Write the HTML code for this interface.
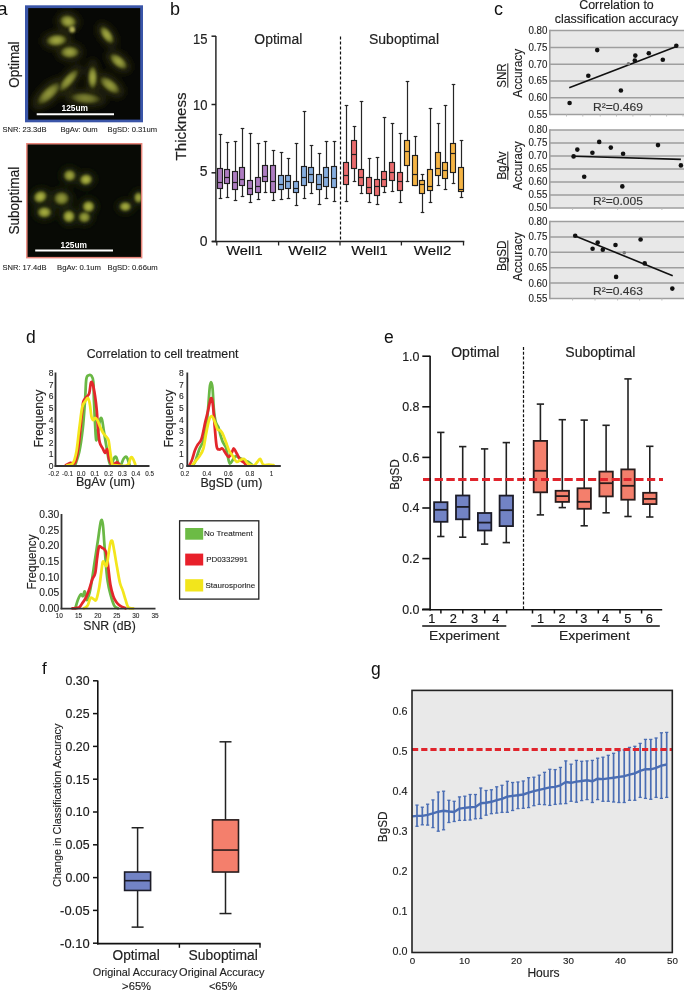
<!DOCTYPE html>
<html><head><meta charset="utf-8"><title>Figure</title><style>html,body{margin:0;padding:0;background:#fff;overflow:hidden;}svg{display:block;will-change:transform;}text{font-family:"Liberation Sans",sans-serif;}</style></head><body><svg width="685" height="991" viewBox="0 0 685 991"><rect width="685" height="991" fill="#fff"/><text x="-3" y="14.5" font-size="19" fill="#111">a</text>
<rect x="25" y="5.3" width="118" height="117" fill="#3a55a8" stroke="none" stroke-width="1" />
<rect x="28.2" y="8.1" width="112" height="111.5" fill="#070805" stroke="none" stroke-width="1" />
<defs><filter id="bl" x="-50%" y="-50%" width="200%" height="200%"><feGaussianBlur stdDeviation="1.1"/></filter><filter id="bl2" x="-50%" y="-50%" width="200%" height="200%"><feGaussianBlur stdDeviation="3"/></filter><radialGradient id="cg"><stop offset="0" stop-color="#a8ae44"/><stop offset="0.5" stop-color="#888e36"/><stop offset="0.85" stop-color="#4a4e1a"/><stop offset="1" stop-color="#1a1c08"/></radialGradient><radialGradient id="cg2"><stop offset="0" stop-color="#b4ba46"/><stop offset="0.45" stop-color="#99a03a"/><stop offset="0.8" stop-color="#5a6020"/><stop offset="1" stop-color="#1e2008"/></radialGradient><clipPath id="c1"><rect x="28.2" y="8.1" width="112" height="111.5"/></clipPath><clipPath id="c2"><rect x="27.6" y="144.5" width="113.3" height="112.4"/></clipPath></defs>
<g clip-path="url(#c1)">
<g filter="url(#bl2)" fill="#262610">
<ellipse cx="68.1" cy="21.5" rx="11.899999999999999" ry="10.4" transform="rotate(15 68.1 21.5)"/>
<ellipse cx="56.6" cy="40.3" rx="14.7" ry="9.600000000000001" transform="rotate(-5 56.6 40.3)"/>
<ellipse cx="69.7" cy="52.2" rx="13.299999999999999" ry="9.920000000000002" transform="rotate(0 69.7 52.2)"/>
<ellipse cx="106.9" cy="35" rx="14.0" ry="8.0" transform="rotate(55 106.9 35)"/>
<ellipse cx="118.5" cy="61.5" rx="14.7" ry="8.8" transform="rotate(40 118.5 61.5)"/>
<ellipse cx="92.6" cy="77.5" rx="6.72" ry="18.400000000000002" transform="rotate(0 92.6 77.5)"/>
<ellipse cx="109.8" cy="85.2" rx="16.799999999999997" ry="9.28" transform="rotate(38 109.8 85.2)"/>
<ellipse cx="68.5" cy="80.4" rx="19.599999999999998" ry="8.0" transform="rotate(-49 68.5 80.4)"/>
<ellipse cx="49" cy="93.4" rx="21.0" ry="9.600000000000001" transform="rotate(-43 49 93.4)"/>
<ellipse cx="85.5" cy="98.3" rx="21.0" ry="8.8" transform="rotate(5 85.5 98.3)"/>
</g>
<g filter="url(#bl)">
<ellipse cx="68.1" cy="21.5" rx="8.5" ry="6.5" fill="url(#cg)" opacity="1.0" transform="rotate(15 68.1 21.5)"/>
<ellipse cx="56.6" cy="40.3" rx="10.5" ry="6" fill="url(#cg)" opacity="1.0" transform="rotate(-5 56.6 40.3)"/>
<ellipse cx="69.7" cy="52.2" rx="9.5" ry="6.2" fill="url(#cg)" opacity="0.95" transform="rotate(0 69.7 52.2)"/>
<ellipse cx="106.9" cy="35" rx="10" ry="5" fill="url(#cg)" opacity="1.0" transform="rotate(55 106.9 35)"/>
<ellipse cx="118.5" cy="61.5" rx="10.5" ry="5.5" fill="url(#cg)" opacity="0.95" transform="rotate(40 118.5 61.5)"/>
<ellipse cx="92.6" cy="77.5" rx="4.8" ry="11.5" fill="url(#cg)" opacity="1.0" transform="rotate(0 92.6 77.5)"/>
<ellipse cx="109.8" cy="85.2" rx="12" ry="5.8" fill="url(#cg)" opacity="0.9" transform="rotate(38 109.8 85.2)"/>
<ellipse cx="68.5" cy="80.4" rx="14" ry="5" fill="url(#cg)" opacity="0.9" transform="rotate(-49 68.5 80.4)"/>
<ellipse cx="49" cy="93.4" rx="15" ry="6" fill="url(#cg)" opacity="0.85" transform="rotate(-43 49 93.4)"/>
<ellipse cx="85.5" cy="98.3" rx="15" ry="5.5" fill="url(#cg)" opacity="0.7" transform="rotate(5 85.5 98.3)"/>
<circle cx="72.2" cy="29.7" r="2.9" fill="#b0ae55"/>
</g>
</g>
<line x1="36.7" y1="114.3" x2="114" y2="114.3" stroke="#fff" stroke-width="2" />
<text x="61.5" y="111" font-size="8.2" fill="#fff" textLength="26.5" lengthAdjust="spacingAndGlyphs" font-weight="bold">125um</text>
<text x="2.5" y="132.1" font-size="7.2" fill="#222" stroke="#222" stroke-width="0.09" textLength="44" lengthAdjust="spacingAndGlyphs">SNR: 23.3dB</text>
<text x="60.5" y="132.1" font-size="7.2" fill="#222" stroke="#222" stroke-width="0.09" textLength="37.2" lengthAdjust="spacingAndGlyphs">BgAv: 0um</text>
<text x="107.6" y="132.1" font-size="7.2" fill="#222" stroke="#222" stroke-width="0.09" textLength="49.4" lengthAdjust="spacingAndGlyphs">BgSD: 0.31um</text>
<text transform="translate(19.2,64.6) rotate(-90)" font-size="14.7" fill="#1a1a1a" stroke="#1a1a1a" stroke-width="0.18" text-anchor="middle" textLength="46.3" lengthAdjust="spacingAndGlyphs">Optimal</text>
<rect x="26.1" y="143" width="116.3" height="115.4" fill="#e8857a" stroke="none" stroke-width="1" />
<rect x="27.6" y="144.5" width="113.3" height="112.4" fill="#080a05" stroke="none" stroke-width="1" />
<g clip-path="url(#c2)">
<g filter="url(#bl2)" fill="#1c200a">
<ellipse cx="69.7" cy="175.5" rx="9.600000000000001" ry="9.28" transform="rotate(0 69.7 175.5)"/>
<ellipse cx="86" cy="179.6" rx="10.08" ry="8.8" transform="rotate(-10 86 179.6)"/>
<ellipse cx="40.3" cy="196.8" rx="10.88" ry="9.28" transform="rotate(-30 40.3 196.8)"/>
<ellipse cx="61.5" cy="198.4" rx="11.840000000000002" ry="10.4" transform="rotate(0 61.5 198.4)"/>
<ellipse cx="88.5" cy="206.6" rx="9.600000000000001" ry="9.28" transform="rotate(0 88.5 206.6)"/>
<ellipse cx="44.4" cy="212.3" rx="11.200000000000001" ry="8.8" transform="rotate(0 44.4 212.3)"/>
<ellipse cx="68.9" cy="216.4" rx="9.600000000000001" ry="9.920000000000002" transform="rotate(0 68.9 216.4)"/>
<ellipse cx="84.4" cy="217.2" rx="9.600000000000001" ry="8.8" transform="rotate(0 84.4 217.2)"/>
<ellipse cx="125.3" cy="206.6" rx="9.600000000000001" ry="7.68" transform="rotate(0 125.3 206.6)"/>
<ellipse cx="138.5" cy="197.6" rx="7.2" ry="8.8" transform="rotate(0 138.5 197.6)"/>
</g>
<g filter="url(#bl)">
<ellipse cx="69.7" cy="175.5" rx="6.300000000000001" ry="6.09" fill="url(#cg2)" opacity="0.9" transform="rotate(0 69.7 175.5)"/>
<ellipse cx="86" cy="179.6" rx="6.615" ry="5.775" fill="url(#cg2)" opacity="1.0" transform="rotate(-10 86 179.6)"/>
<ellipse cx="40.3" cy="196.8" rx="7.14" ry="6.09" fill="url(#cg2)" opacity="1.0" transform="rotate(-30 40.3 196.8)"/>
<ellipse cx="61.5" cy="198.4" rx="7.7700000000000005" ry="6.825" fill="url(#cg2)" opacity="0.8" transform="rotate(0 61.5 198.4)"/>
<ellipse cx="88.5" cy="206.6" rx="6.300000000000001" ry="6.09" fill="url(#cg2)" opacity="1.0" transform="rotate(0 88.5 206.6)"/>
<ellipse cx="44.4" cy="212.3" rx="7.3500000000000005" ry="5.775" fill="url(#cg2)" opacity="0.95" transform="rotate(0 44.4 212.3)"/>
<ellipse cx="68.9" cy="216.4" rx="6.300000000000001" ry="6.510000000000001" fill="url(#cg2)" opacity="1.0" transform="rotate(0 68.9 216.4)"/>
<ellipse cx="84.4" cy="217.2" rx="6.300000000000001" ry="5.775" fill="url(#cg2)" opacity="0.85" transform="rotate(0 84.4 217.2)"/>
<ellipse cx="125.3" cy="206.6" rx="6.300000000000001" ry="5.04" fill="url(#cg2)" opacity="0.95" transform="rotate(0 125.3 206.6)"/>
<ellipse cx="138.5" cy="197.6" rx="4.7250000000000005" ry="5.775" fill="url(#cg2)" opacity="0.9" transform="rotate(0 138.5 197.6)"/>
</g>
</g>
<line x1="35.2" y1="250.4" x2="113" y2="250.4" stroke="#fff" stroke-width="2" />
<text x="60.5" y="247.5" font-size="8.2" fill="#fff" textLength="26.5" lengthAdjust="spacingAndGlyphs" font-weight="bold">125um</text>
<text x="2.5" y="269.7" font-size="7.2" fill="#222" stroke="#222" stroke-width="0.09" textLength="44" lengthAdjust="spacingAndGlyphs">SNR: 17.4dB</text>
<text x="57" y="269.7" font-size="7.2" fill="#222" stroke="#222" stroke-width="0.09" textLength="44" lengthAdjust="spacingAndGlyphs">BgAv: 0.1um</text>
<text x="107.6" y="269.7" font-size="7.2" fill="#222" stroke="#222" stroke-width="0.09" textLength="50" lengthAdjust="spacingAndGlyphs">BgSD: 0.66um</text>
<text transform="translate(19.4,200.7) rotate(-90)" font-size="15" fill="#1a1a1a" stroke="#1a1a1a" stroke-width="0.18" text-anchor="middle" textLength="67.8" lengthAdjust="spacingAndGlyphs">Suboptimal</text>
<text x="170" y="14.5" font-size="18" fill="#111">b</text>
<line x1="220.5" y1="134.5" x2="220.5" y2="168.5" stroke="#262626" stroke-width="1.2" />
<line x1="220.5" y1="188.5" x2="220.5" y2="198.5" stroke="#262626" stroke-width="1.2" />
<line x1="218.7" y1="134.5" x2="222.3" y2="134.5" stroke="#262626" stroke-width="1.2" />
<line x1="218.7" y1="198.5" x2="222.3" y2="198.5" stroke="#262626" stroke-width="1.2" />
<rect x="217.5" y="168.5" width="5" height="20.0" fill="#ad7cc1" stroke="#1e1e1e" stroke-width="1.15" />
<line x1="217.5" y1="182.5" x2="222.5" y2="182.5" stroke="#1e1e1e" stroke-width="1.2" />
<line x1="227.5" y1="142.5" x2="227.5" y2="169.5" stroke="#262626" stroke-width="1.2" />
<line x1="227.5" y1="183.5" x2="227.5" y2="197.5" stroke="#262626" stroke-width="1.2" />
<line x1="225.7" y1="142.5" x2="229.3" y2="142.5" stroke="#262626" stroke-width="1.2" />
<line x1="225.7" y1="197.5" x2="229.3" y2="197.5" stroke="#262626" stroke-width="1.2" />
<rect x="224.5" y="169.5" width="5" height="14.0" fill="#ad7cc1" stroke="#1e1e1e" stroke-width="1.15" />
<line x1="224.5" y1="177.5" x2="229.5" y2="177.5" stroke="#1e1e1e" stroke-width="1.2" />
<line x1="235.5" y1="141.5" x2="235.5" y2="171.5" stroke="#262626" stroke-width="1.2" />
<line x1="235.5" y1="189.5" x2="235.5" y2="200.5" stroke="#262626" stroke-width="1.2" />
<line x1="233.7" y1="141.5" x2="237.3" y2="141.5" stroke="#262626" stroke-width="1.2" />
<line x1="233.7" y1="200.5" x2="237.3" y2="200.5" stroke="#262626" stroke-width="1.2" />
<rect x="232.5" y="171.5" width="5" height="18.0" fill="#ad7cc1" stroke="#1e1e1e" stroke-width="1.15" />
<line x1="232.5" y1="182.5" x2="237.5" y2="182.5" stroke="#1e1e1e" stroke-width="1.2" />
<line x1="242.5" y1="128.5" x2="242.5" y2="167.5" stroke="#262626" stroke-width="1.2" />
<line x1="242.5" y1="185.5" x2="242.5" y2="196.5" stroke="#262626" stroke-width="1.2" />
<line x1="240.7" y1="128.5" x2="244.3" y2="128.5" stroke="#262626" stroke-width="1.2" />
<line x1="240.7" y1="196.5" x2="244.3" y2="196.5" stroke="#262626" stroke-width="1.2" />
<rect x="239.5" y="167.5" width="5" height="18.0" fill="#ad7cc1" stroke="#1e1e1e" stroke-width="1.15" />
<line x1="239.5" y1="179.5" x2="244.5" y2="179.5" stroke="#1e1e1e" stroke-width="1.2" />
<line x1="250.5" y1="133.5" x2="250.5" y2="180.5" stroke="#262626" stroke-width="1.2" />
<line x1="250.5" y1="194.5" x2="250.5" y2="202.5" stroke="#262626" stroke-width="1.2" />
<line x1="248.7" y1="133.5" x2="252.3" y2="133.5" stroke="#262626" stroke-width="1.2" />
<line x1="248.7" y1="202.5" x2="252.3" y2="202.5" stroke="#262626" stroke-width="1.2" />
<rect x="247.5" y="180.5" width="5" height="14.0" fill="#ad7cc1" stroke="#1e1e1e" stroke-width="1.15" />
<line x1="247.5" y1="188.5" x2="252.5" y2="188.5" stroke="#1e1e1e" stroke-width="1.2" />
<line x1="258.5" y1="143.5" x2="258.5" y2="177.5" stroke="#262626" stroke-width="1.2" />
<line x1="258.5" y1="192.5" x2="258.5" y2="199.5" stroke="#262626" stroke-width="1.2" />
<line x1="256.7" y1="143.5" x2="260.3" y2="143.5" stroke="#262626" stroke-width="1.2" />
<line x1="256.7" y1="199.5" x2="260.3" y2="199.5" stroke="#262626" stroke-width="1.2" />
<rect x="255.5" y="177.5" width="5" height="15.0" fill="#ad7cc1" stroke="#1e1e1e" stroke-width="1.15" />
<line x1="255.5" y1="186.5" x2="260.5" y2="186.5" stroke="#1e1e1e" stroke-width="1.2" />
<line x1="265.5" y1="141.5" x2="265.5" y2="165.5" stroke="#262626" stroke-width="1.2" />
<line x1="265.5" y1="181.5" x2="265.5" y2="192.5" stroke="#262626" stroke-width="1.2" />
<line x1="263.7" y1="141.5" x2="267.3" y2="141.5" stroke="#262626" stroke-width="1.2" />
<line x1="263.7" y1="192.5" x2="267.3" y2="192.5" stroke="#262626" stroke-width="1.2" />
<rect x="262.5" y="165.5" width="5" height="16.0" fill="#ad7cc1" stroke="#1e1e1e" stroke-width="1.15" />
<line x1="262.5" y1="176.5" x2="267.5" y2="176.5" stroke="#1e1e1e" stroke-width="1.2" />
<line x1="273.5" y1="150.5" x2="273.5" y2="165.5" stroke="#262626" stroke-width="1.2" />
<line x1="273.5" y1="192.5" x2="273.5" y2="200.5" stroke="#262626" stroke-width="1.2" />
<line x1="271.7" y1="150.5" x2="275.3" y2="150.5" stroke="#262626" stroke-width="1.2" />
<line x1="271.7" y1="200.5" x2="275.3" y2="200.5" stroke="#262626" stroke-width="1.2" />
<rect x="270.5" y="165.5" width="5" height="27.0" fill="#ad7cc1" stroke="#1e1e1e" stroke-width="1.15" />
<line x1="270.5" y1="181.5" x2="275.5" y2="181.5" stroke="#1e1e1e" stroke-width="1.2" />
<line x1="281.5" y1="152.5" x2="281.5" y2="175.5" stroke="#262626" stroke-width="1.2" />
<line x1="281.5" y1="189.5" x2="281.5" y2="199.5" stroke="#262626" stroke-width="1.2" />
<line x1="279.7" y1="152.5" x2="283.3" y2="152.5" stroke="#262626" stroke-width="1.2" />
<line x1="279.7" y1="199.5" x2="283.3" y2="199.5" stroke="#262626" stroke-width="1.2" />
<rect x="278.5" y="175.5" width="5" height="14.0" fill="#85addf" stroke="#1e1e1e" stroke-width="1.15" />
<line x1="278.5" y1="184.5" x2="283.5" y2="184.5" stroke="#1e1e1e" stroke-width="1.2" />
<line x1="288.5" y1="158.5" x2="288.5" y2="175.5" stroke="#262626" stroke-width="1.2" />
<line x1="288.5" y1="188.5" x2="288.5" y2="198.5" stroke="#262626" stroke-width="1.2" />
<line x1="286.7" y1="158.5" x2="290.3" y2="158.5" stroke="#262626" stroke-width="1.2" />
<line x1="286.7" y1="198.5" x2="290.3" y2="198.5" stroke="#262626" stroke-width="1.2" />
<rect x="285.5" y="175.5" width="5" height="13.0" fill="#85addf" stroke="#1e1e1e" stroke-width="1.15" />
<line x1="285.5" y1="181.5" x2="290.5" y2="181.5" stroke="#1e1e1e" stroke-width="1.2" />
<line x1="296.5" y1="143.5" x2="296.5" y2="181.5" stroke="#262626" stroke-width="1.2" />
<line x1="296.5" y1="192.5" x2="296.5" y2="205.5" stroke="#262626" stroke-width="1.2" />
<line x1="294.7" y1="143.5" x2="298.3" y2="143.5" stroke="#262626" stroke-width="1.2" />
<line x1="294.7" y1="205.5" x2="298.3" y2="205.5" stroke="#262626" stroke-width="1.2" />
<rect x="293.5" y="181.5" width="5" height="11.0" fill="#85addf" stroke="#1e1e1e" stroke-width="1.15" />
<line x1="293.5" y1="188.5" x2="298.5" y2="188.5" stroke="#1e1e1e" stroke-width="1.2" />
<line x1="304.5" y1="111.5" x2="304.5" y2="166.5" stroke="#262626" stroke-width="1.2" />
<line x1="304.5" y1="185.5" x2="304.5" y2="198.5" stroke="#262626" stroke-width="1.2" />
<line x1="302.7" y1="111.5" x2="306.3" y2="111.5" stroke="#262626" stroke-width="1.2" />
<line x1="302.7" y1="198.5" x2="306.3" y2="198.5" stroke="#262626" stroke-width="1.2" />
<rect x="301.5" y="166.5" width="5" height="19.0" fill="#85addf" stroke="#1e1e1e" stroke-width="1.15" />
<line x1="301.5" y1="177.5" x2="306.5" y2="177.5" stroke="#1e1e1e" stroke-width="1.2" />
<line x1="311.5" y1="145.5" x2="311.5" y2="167.5" stroke="#262626" stroke-width="1.2" />
<line x1="311.5" y1="182.5" x2="311.5" y2="193.5" stroke="#262626" stroke-width="1.2" />
<line x1="309.7" y1="145.5" x2="313.3" y2="145.5" stroke="#262626" stroke-width="1.2" />
<line x1="309.7" y1="193.5" x2="313.3" y2="193.5" stroke="#262626" stroke-width="1.2" />
<rect x="308.5" y="167.5" width="5" height="15.0" fill="#85addf" stroke="#1e1e1e" stroke-width="1.15" />
<line x1="308.5" y1="174.5" x2="313.5" y2="174.5" stroke="#1e1e1e" stroke-width="1.2" />
<line x1="319.5" y1="153.5" x2="319.5" y2="174.5" stroke="#262626" stroke-width="1.2" />
<line x1="319.5" y1="189.5" x2="319.5" y2="204.5" stroke="#262626" stroke-width="1.2" />
<line x1="317.7" y1="153.5" x2="321.3" y2="153.5" stroke="#262626" stroke-width="1.2" />
<line x1="317.7" y1="204.5" x2="321.3" y2="204.5" stroke="#262626" stroke-width="1.2" />
<rect x="316.5" y="174.5" width="5" height="15.0" fill="#85addf" stroke="#1e1e1e" stroke-width="1.15" />
<line x1="316.5" y1="184.5" x2="321.5" y2="184.5" stroke="#1e1e1e" stroke-width="1.2" />
<line x1="326.5" y1="141.5" x2="326.5" y2="167.5" stroke="#262626" stroke-width="1.2" />
<line x1="326.5" y1="186.5" x2="326.5" y2="198.5" stroke="#262626" stroke-width="1.2" />
<line x1="324.7" y1="141.5" x2="328.3" y2="141.5" stroke="#262626" stroke-width="1.2" />
<line x1="324.7" y1="198.5" x2="328.3" y2="198.5" stroke="#262626" stroke-width="1.2" />
<rect x="323.5" y="167.5" width="5" height="19.0" fill="#85addf" stroke="#1e1e1e" stroke-width="1.15" />
<line x1="323.5" y1="177.5" x2="328.5" y2="177.5" stroke="#1e1e1e" stroke-width="1.2" />
<line x1="334.5" y1="141.5" x2="334.5" y2="166.5" stroke="#262626" stroke-width="1.2" />
<line x1="334.5" y1="187.5" x2="334.5" y2="201.5" stroke="#262626" stroke-width="1.2" />
<line x1="332.7" y1="141.5" x2="336.3" y2="141.5" stroke="#262626" stroke-width="1.2" />
<line x1="332.7" y1="201.5" x2="336.3" y2="201.5" stroke="#262626" stroke-width="1.2" />
<rect x="331.5" y="166.5" width="5" height="21.0" fill="#85addf" stroke="#1e1e1e" stroke-width="1.15" />
<line x1="331.5" y1="178.5" x2="336.5" y2="178.5" stroke="#1e1e1e" stroke-width="1.2" />
<line x1="346.5" y1="105.5" x2="346.5" y2="162.5" stroke="#262626" stroke-width="1.2" />
<line x1="346.5" y1="184.5" x2="346.5" y2="201.5" stroke="#262626" stroke-width="1.2" />
<line x1="344.7" y1="105.5" x2="348.3" y2="105.5" stroke="#262626" stroke-width="1.2" />
<line x1="344.7" y1="201.5" x2="348.3" y2="201.5" stroke="#262626" stroke-width="1.2" />
<rect x="343.5" y="162.5" width="5" height="22.0" fill="#ea6b6d" stroke="#1e1e1e" stroke-width="1.15" />
<line x1="343.5" y1="175.5" x2="348.5" y2="175.5" stroke="#1e1e1e" stroke-width="1.2" />
<line x1="354.5" y1="126.5" x2="354.5" y2="140.5" stroke="#262626" stroke-width="1.2" />
<line x1="354.5" y1="168.5" x2="354.5" y2="181.5" stroke="#262626" stroke-width="1.2" />
<line x1="352.7" y1="126.5" x2="356.3" y2="126.5" stroke="#262626" stroke-width="1.2" />
<line x1="352.7" y1="181.5" x2="356.3" y2="181.5" stroke="#262626" stroke-width="1.2" />
<rect x="351.5" y="140.5" width="5" height="28.0" fill="#ea6b6d" stroke="#1e1e1e" stroke-width="1.15" />
<line x1="351.5" y1="154.5" x2="356.5" y2="154.5" stroke="#1e1e1e" stroke-width="1.2" />
<line x1="361.5" y1="101.5" x2="361.5" y2="169.5" stroke="#262626" stroke-width="1.2" />
<line x1="361.5" y1="185.5" x2="361.5" y2="193.5" stroke="#262626" stroke-width="1.2" />
<line x1="359.7" y1="101.5" x2="363.3" y2="101.5" stroke="#262626" stroke-width="1.2" />
<line x1="359.7" y1="193.5" x2="363.3" y2="193.5" stroke="#262626" stroke-width="1.2" />
<rect x="358.5" y="169.5" width="5" height="16.0" fill="#ea6b6d" stroke="#1e1e1e" stroke-width="1.15" />
<line x1="358.5" y1="177.5" x2="363.5" y2="177.5" stroke="#1e1e1e" stroke-width="1.2" />
<line x1="369.5" y1="158.5" x2="369.5" y2="177.5" stroke="#262626" stroke-width="1.2" />
<line x1="369.5" y1="193.5" x2="369.5" y2="202.5" stroke="#262626" stroke-width="1.2" />
<line x1="367.7" y1="158.5" x2="371.3" y2="158.5" stroke="#262626" stroke-width="1.2" />
<line x1="367.7" y1="202.5" x2="371.3" y2="202.5" stroke="#262626" stroke-width="1.2" />
<rect x="366.5" y="177.5" width="5" height="16.0" fill="#ea6b6d" stroke="#1e1e1e" stroke-width="1.15" />
<line x1="366.5" y1="187.5" x2="371.5" y2="187.5" stroke="#1e1e1e" stroke-width="1.2" />
<line x1="377.5" y1="157.5" x2="377.5" y2="179.5" stroke="#262626" stroke-width="1.2" />
<line x1="377.5" y1="195.5" x2="377.5" y2="204.5" stroke="#262626" stroke-width="1.2" />
<line x1="375.7" y1="157.5" x2="379.3" y2="157.5" stroke="#262626" stroke-width="1.2" />
<line x1="375.7" y1="204.5" x2="379.3" y2="204.5" stroke="#262626" stroke-width="1.2" />
<rect x="374.5" y="179.5" width="5" height="16.0" fill="#ea6b6d" stroke="#1e1e1e" stroke-width="1.15" />
<line x1="374.5" y1="186.5" x2="379.5" y2="186.5" stroke="#1e1e1e" stroke-width="1.2" />
<line x1="384.5" y1="117.5" x2="384.5" y2="171.5" stroke="#262626" stroke-width="1.2" />
<line x1="384.5" y1="186.5" x2="384.5" y2="192.5" stroke="#262626" stroke-width="1.2" />
<line x1="382.7" y1="117.5" x2="386.3" y2="117.5" stroke="#262626" stroke-width="1.2" />
<line x1="382.7" y1="192.5" x2="386.3" y2="192.5" stroke="#262626" stroke-width="1.2" />
<rect x="381.5" y="171.5" width="5" height="15.0" fill="#ea6b6d" stroke="#1e1e1e" stroke-width="1.15" />
<line x1="381.5" y1="179.5" x2="386.5" y2="179.5" stroke="#1e1e1e" stroke-width="1.2" />
<line x1="392.5" y1="123.5" x2="392.5" y2="162.5" stroke="#262626" stroke-width="1.2" />
<line x1="392.5" y1="180.5" x2="392.5" y2="191.5" stroke="#262626" stroke-width="1.2" />
<line x1="390.7" y1="123.5" x2="394.3" y2="123.5" stroke="#262626" stroke-width="1.2" />
<line x1="390.7" y1="191.5" x2="394.3" y2="191.5" stroke="#262626" stroke-width="1.2" />
<rect x="389.5" y="162.5" width="5" height="18.0" fill="#ea6b6d" stroke="#1e1e1e" stroke-width="1.15" />
<line x1="389.5" y1="172.5" x2="394.5" y2="172.5" stroke="#1e1e1e" stroke-width="1.2" />
<line x1="400.5" y1="133.5" x2="400.5" y2="172.5" stroke="#262626" stroke-width="1.2" />
<line x1="400.5" y1="190.5" x2="400.5" y2="202.5" stroke="#262626" stroke-width="1.2" />
<line x1="398.7" y1="133.5" x2="402.3" y2="133.5" stroke="#262626" stroke-width="1.2" />
<line x1="398.7" y1="202.5" x2="402.3" y2="202.5" stroke="#262626" stroke-width="1.2" />
<rect x="397.5" y="172.5" width="5" height="18.0" fill="#ea6b6d" stroke="#1e1e1e" stroke-width="1.15" />
<line x1="397.5" y1="181.5" x2="402.5" y2="181.5" stroke="#1e1e1e" stroke-width="1.2" />
<line x1="407.5" y1="81.5" x2="407.5" y2="140.5" stroke="#262626" stroke-width="1.2" />
<line x1="407.5" y1="165.5" x2="407.5" y2="181.5" stroke="#262626" stroke-width="1.2" />
<line x1="405.7" y1="81.5" x2="409.3" y2="81.5" stroke="#262626" stroke-width="1.2" />
<line x1="405.7" y1="181.5" x2="409.3" y2="181.5" stroke="#262626" stroke-width="1.2" />
<rect x="404.5" y="140.5" width="5" height="25.0" fill="#f5b444" stroke="#1e1e1e" stroke-width="1.15" />
<line x1="404.5" y1="151.5" x2="409.5" y2="151.5" stroke="#1e1e1e" stroke-width="1.2" />
<line x1="415.5" y1="136.5" x2="415.5" y2="155.5" stroke="#262626" stroke-width="1.2" />
<line x1="415.5" y1="185.5" x2="415.5" y2="185.5" stroke="#262626" stroke-width="1.2" />
<line x1="413.7" y1="136.5" x2="417.3" y2="136.5" stroke="#262626" stroke-width="1.2" />
<line x1="413.7" y1="185.5" x2="417.3" y2="185.5" stroke="#262626" stroke-width="1.2" />
<rect x="412.5" y="155.5" width="5" height="30.0" fill="#f5b444" stroke="#1e1e1e" stroke-width="1.15" />
<line x1="412.5" y1="174.5" x2="417.5" y2="174.5" stroke="#1e1e1e" stroke-width="1.2" />
<line x1="422.5" y1="174.5" x2="422.5" y2="180.5" stroke="#262626" stroke-width="1.2" />
<line x1="422.5" y1="193.5" x2="422.5" y2="212.5" stroke="#262626" stroke-width="1.2" />
<line x1="420.7" y1="174.5" x2="424.3" y2="174.5" stroke="#262626" stroke-width="1.2" />
<line x1="420.7" y1="212.5" x2="424.3" y2="212.5" stroke="#262626" stroke-width="1.2" />
<rect x="419.5" y="180.5" width="5" height="13.0" fill="#f5b444" stroke="#1e1e1e" stroke-width="1.15" />
<line x1="419.5" y1="184.5" x2="424.5" y2="184.5" stroke="#1e1e1e" stroke-width="1.2" />
<line x1="430.5" y1="108.5" x2="430.5" y2="169.5" stroke="#262626" stroke-width="1.2" />
<line x1="430.5" y1="190.5" x2="430.5" y2="202.5" stroke="#262626" stroke-width="1.2" />
<line x1="428.7" y1="108.5" x2="432.3" y2="108.5" stroke="#262626" stroke-width="1.2" />
<line x1="428.7" y1="202.5" x2="432.3" y2="202.5" stroke="#262626" stroke-width="1.2" />
<rect x="427.5" y="169.5" width="5" height="21.0" fill="#f5b444" stroke="#1e1e1e" stroke-width="1.15" />
<line x1="427.5" y1="186.5" x2="432.5" y2="186.5" stroke="#1e1e1e" stroke-width="1.2" />
<line x1="438.5" y1="123.5" x2="438.5" y2="152.5" stroke="#262626" stroke-width="1.2" />
<line x1="438.5" y1="175.5" x2="438.5" y2="185.5" stroke="#262626" stroke-width="1.2" />
<line x1="436.7" y1="123.5" x2="440.3" y2="123.5" stroke="#262626" stroke-width="1.2" />
<line x1="436.7" y1="185.5" x2="440.3" y2="185.5" stroke="#262626" stroke-width="1.2" />
<rect x="435.5" y="152.5" width="5" height="23.0" fill="#f5b444" stroke="#1e1e1e" stroke-width="1.15" />
<line x1="435.5" y1="168.5" x2="440.5" y2="168.5" stroke="#1e1e1e" stroke-width="1.2" />
<line x1="445.5" y1="105.5" x2="445.5" y2="162.5" stroke="#262626" stroke-width="1.2" />
<line x1="445.5" y1="178.5" x2="445.5" y2="189.5" stroke="#262626" stroke-width="1.2" />
<line x1="443.7" y1="105.5" x2="447.3" y2="105.5" stroke="#262626" stroke-width="1.2" />
<line x1="443.7" y1="189.5" x2="447.3" y2="189.5" stroke="#262626" stroke-width="1.2" />
<rect x="442.5" y="162.5" width="5" height="16.0" fill="#f5b444" stroke="#1e1e1e" stroke-width="1.15" />
<line x1="442.5" y1="170.5" x2="447.5" y2="170.5" stroke="#1e1e1e" stroke-width="1.2" />
<line x1="453.5" y1="84.5" x2="453.5" y2="143.5" stroke="#262626" stroke-width="1.2" />
<line x1="453.5" y1="172.5" x2="453.5" y2="183.5" stroke="#262626" stroke-width="1.2" />
<line x1="451.7" y1="84.5" x2="455.3" y2="84.5" stroke="#262626" stroke-width="1.2" />
<line x1="451.7" y1="183.5" x2="455.3" y2="183.5" stroke="#262626" stroke-width="1.2" />
<rect x="450.5" y="143.5" width="5" height="29.0" fill="#f5b444" stroke="#1e1e1e" stroke-width="1.15" />
<line x1="450.5" y1="153.5" x2="455.5" y2="153.5" stroke="#1e1e1e" stroke-width="1.2" />
<line x1="461.5" y1="140.5" x2="461.5" y2="167.5" stroke="#262626" stroke-width="1.2" />
<line x1="461.5" y1="191.5" x2="461.5" y2="197.5" stroke="#262626" stroke-width="1.2" />
<line x1="459.7" y1="140.5" x2="463.3" y2="140.5" stroke="#262626" stroke-width="1.2" />
<line x1="459.7" y1="197.5" x2="463.3" y2="197.5" stroke="#262626" stroke-width="1.2" />
<rect x="458.5" y="167.5" width="5" height="24.0" fill="#f5b444" stroke="#1e1e1e" stroke-width="1.15" />
<line x1="458.5" y1="189.5" x2="463.5" y2="189.5" stroke="#1e1e1e" stroke-width="1.2" />
<line x1="215.9" y1="36" x2="215.9" y2="242.2" stroke="#1a1a1a" stroke-width="1.4" />
<line x1="212" y1="241.5" x2="464.3" y2="241.5" stroke="#222" stroke-width="1.5" />
<line x1="211.5" y1="36.2" x2="216" y2="36.2" stroke="#222" stroke-width="1.5" />
<line x1="211.5" y1="104.5" x2="216" y2="104.5" stroke="#222" stroke-width="1.5" />
<line x1="211.5" y1="172.8" x2="216" y2="172.8" stroke="#222" stroke-width="1.5" />
<line x1="211.5" y1="241.5" x2="216" y2="241.5" stroke="#222" stroke-width="1.5" />
<line x1="216.8" y1="241.5" x2="216.8" y2="245.5" stroke="#222" stroke-width="1.3" />
<line x1="278.6" y1="241.5" x2="278.6" y2="245.5" stroke="#222" stroke-width="1.3" />
<line x1="340" y1="241.5" x2="340" y2="245.5" stroke="#222" stroke-width="1.3" />
<line x1="401.4" y1="241.5" x2="401.4" y2="245.5" stroke="#222" stroke-width="1.3" />
<line x1="463.5" y1="241.5" x2="463.5" y2="245.5" stroke="#222" stroke-width="1.3" />
<line x1="340.5" y1="36.4" x2="340.5" y2="241.5" stroke="#111" stroke-width="1.2" stroke-dasharray="3.2 1.8"/>
<text x="207.6" y="43.6" font-size="14" fill="#222" stroke="#222" stroke-width="0.17" text-anchor="end" textLength="14.5" lengthAdjust="spacingAndGlyphs">15</text>
<text x="207.6" y="109.5" font-size="14" fill="#222" stroke="#222" stroke-width="0.17" text-anchor="end" textLength="14.5" lengthAdjust="spacingAndGlyphs">10</text>
<text x="207.6" y="176" font-size="14" fill="#222" stroke="#222" stroke-width="0.17" text-anchor="end">5</text>
<text x="207.6" y="246" font-size="14" fill="#222" stroke="#222" stroke-width="0.17" text-anchor="end">0</text>
<text transform="translate(185.5,126.4) rotate(-90)" font-size="15" fill="#222" stroke="#222" stroke-width="0.18" text-anchor="middle" textLength="68" lengthAdjust="spacingAndGlyphs">Thickness</text>
<text x="254.3" y="43.6" font-size="14" fill="#222" stroke="#222" stroke-width="0.17" textLength="48" lengthAdjust="spacingAndGlyphs">Optimal</text>
<text x="369" y="43.6" font-size="14" fill="#222" stroke="#222" stroke-width="0.17" textLength="70" lengthAdjust="spacingAndGlyphs">Suboptimal</text>
<text x="226.2" y="255.1" font-size="12.5" fill="#111" stroke="#111" stroke-width="0.15" textLength="36.5" lengthAdjust="spacingAndGlyphs">Well1</text>
<text x="288.3" y="255.1" font-size="12.5" fill="#111" stroke="#111" stroke-width="0.15" textLength="38.5" lengthAdjust="spacingAndGlyphs">Well2</text>
<text x="351.3" y="255.1" font-size="12.5" fill="#111" stroke="#111" stroke-width="0.15" textLength="36.5" lengthAdjust="spacingAndGlyphs">Well1</text>
<text x="413.8" y="255.1" font-size="12.5" fill="#111" stroke="#111" stroke-width="0.15" textLength="37.5" lengthAdjust="spacingAndGlyphs">Well2</text>
<text x="494" y="14.5" font-size="18" fill="#111">c</text>
<text x="616.5" y="9.2" font-size="12" fill="#222" stroke="#222" stroke-width="0.14" text-anchor="middle" textLength="74.5" lengthAdjust="spacingAndGlyphs">Correlation to</text>
<text x="616.5" y="22.5" font-size="12" fill="#222" stroke="#222" stroke-width="0.14" text-anchor="middle" textLength="123.5" lengthAdjust="spacingAndGlyphs">classification accuracy</text>
<rect x="549.8" y="30.6" width="134.20000000000005" height="83.9" fill="#e8e8e8" stroke="none" stroke-width="1" />
<line x1="549.8" y1="30.6" x2="684" y2="30.6" stroke="#9e9e9e" stroke-width="1.5" />
<text x="547.4" y="34.1" font-size="10" fill="#222" stroke="#222" stroke-width="0.12" text-anchor="end" textLength="19" lengthAdjust="spacingAndGlyphs">0.80</text>
<line x1="549.8" y1="47.38" x2="684" y2="47.38" stroke="#9e9e9e" stroke-width="1.5" />
<text x="547.4" y="50.88" font-size="10" fill="#222" stroke="#222" stroke-width="0.12" text-anchor="end" textLength="19" lengthAdjust="spacingAndGlyphs">0.75</text>
<line x1="549.8" y1="64.16" x2="684" y2="64.16" stroke="#9e9e9e" stroke-width="1.5" />
<text x="547.4" y="67.66" font-size="10" fill="#222" stroke="#222" stroke-width="0.12" text-anchor="end" textLength="19" lengthAdjust="spacingAndGlyphs">0.70</text>
<line x1="549.8" y1="80.94" x2="684" y2="80.94" stroke="#9e9e9e" stroke-width="1.5" />
<text x="547.4" y="84.44" font-size="10" fill="#222" stroke="#222" stroke-width="0.12" text-anchor="end" textLength="19" lengthAdjust="spacingAndGlyphs">0.65</text>
<line x1="549.8" y1="97.72" x2="684" y2="97.72" stroke="#9e9e9e" stroke-width="1.5" />
<text x="547.4" y="101.22" font-size="10" fill="#222" stroke="#222" stroke-width="0.12" text-anchor="end" textLength="19" lengthAdjust="spacingAndGlyphs">0.60</text>
<line x1="549.8" y1="114.5" x2="684" y2="114.5" stroke="#9e9e9e" stroke-width="1.5" />
<text x="547.4" y="118.0" font-size="10" fill="#222" stroke="#222" stroke-width="0.12" text-anchor="end" textLength="19" lengthAdjust="spacingAndGlyphs">0.55</text>
<line x1="549.8" y1="29.85" x2="549.8" y2="115.25" stroke="#9e9e9e" stroke-width="1.6" />
<line x1="566.5" y1="114.5" x2="566.5" y2="116.5" stroke="#bbb" stroke-width="1" />
<line x1="582.8" y1="114.5" x2="582.8" y2="116.5" stroke="#bbb" stroke-width="1" />
<line x1="600.2" y1="114.5" x2="600.2" y2="116.5" stroke="#bbb" stroke-width="1" />
<line x1="616.5" y1="114.5" x2="616.5" y2="116.5" stroke="#bbb" stroke-width="1" />
<line x1="632.9" y1="114.5" x2="632.9" y2="116.5" stroke="#bbb" stroke-width="1" />
<line x1="650.3" y1="114.5" x2="650.3" y2="116.5" stroke="#bbb" stroke-width="1" />
<line x1="666.6" y1="114.5" x2="666.6" y2="116.5" stroke="#bbb" stroke-width="1" />
<line x1="683" y1="114.5" x2="683" y2="116.5" stroke="#bbb" stroke-width="1" />
<line x1="569.2" y1="87.7" x2="676.5" y2="46.5" stroke="#111" stroke-width="1.6" />
<circle cx="569.6" cy="103" r="2.3" fill="#111"/>
<circle cx="588.3" cy="75.7" r="2.3" fill="#111"/>
<circle cx="597.2" cy="50.1" r="2.3" fill="#111"/>
<circle cx="620.9" cy="90.5" r="2.3" fill="#111"/>
<circle cx="635.3" cy="55.6" r="2.3" fill="#111"/>
<circle cx="634.8" cy="60.6" r="2.3" fill="#111"/>
<circle cx="648.8" cy="53.2" r="2.3" fill="#111"/>
<circle cx="662.8" cy="59.8" r="2.3" fill="#111"/>
<circle cx="676.3" cy="45.8" r="2.3" fill="#111"/>
<text x="593" y="110.6" font-size="11.5" fill="#333" stroke="#333" stroke-width="0.14" textLength="50" lengthAdjust="spacingAndGlyphs">R²=0.469</text>
<circle cx="628.5" cy="63.8" r="1.8" fill="#777"/>
<rect x="549.8" y="129.9" width="134.20000000000005" height="78.0" fill="#e8e8e8" stroke="none" stroke-width="1" />
<line x1="549.8" y1="129.9" x2="684" y2="129.9" stroke="#9e9e9e" stroke-width="1.5" />
<text x="547.4" y="133.4" font-size="10" fill="#222" stroke="#222" stroke-width="0.12" text-anchor="end" textLength="19" lengthAdjust="spacingAndGlyphs">0.80</text>
<line x1="549.8" y1="142.9" x2="684" y2="142.9" stroke="#9e9e9e" stroke-width="1.5" />
<text x="547.4" y="146.4" font-size="10" fill="#222" stroke="#222" stroke-width="0.12" text-anchor="end" textLength="19" lengthAdjust="spacingAndGlyphs">0.75</text>
<line x1="549.8" y1="155.9" x2="684" y2="155.9" stroke="#9e9e9e" stroke-width="1.5" />
<text x="547.4" y="159.4" font-size="10" fill="#222" stroke="#222" stroke-width="0.12" text-anchor="end" textLength="19" lengthAdjust="spacingAndGlyphs">0.70</text>
<line x1="549.8" y1="168.9" x2="684" y2="168.9" stroke="#9e9e9e" stroke-width="1.5" />
<text x="547.4" y="172.4" font-size="10" fill="#222" stroke="#222" stroke-width="0.12" text-anchor="end" textLength="19" lengthAdjust="spacingAndGlyphs">0.65</text>
<line x1="549.8" y1="181.9" x2="684" y2="181.9" stroke="#9e9e9e" stroke-width="1.5" />
<text x="547.4" y="185.4" font-size="10" fill="#222" stroke="#222" stroke-width="0.12" text-anchor="end" textLength="19" lengthAdjust="spacingAndGlyphs">0.60</text>
<line x1="549.8" y1="194.9" x2="684" y2="194.9" stroke="#9e9e9e" stroke-width="1.5" />
<text x="547.4" y="198.4" font-size="10" fill="#222" stroke="#222" stroke-width="0.12" text-anchor="end" textLength="19" lengthAdjust="spacingAndGlyphs">0.55</text>
<line x1="549.8" y1="207.9" x2="684" y2="207.9" stroke="#9e9e9e" stroke-width="1.5" />
<text x="547.4" y="211.4" font-size="10" fill="#222" stroke="#222" stroke-width="0.12" text-anchor="end" textLength="19" lengthAdjust="spacingAndGlyphs">0.50</text>
<line x1="549.8" y1="129.15" x2="549.8" y2="208.65" stroke="#9e9e9e" stroke-width="1.6" />
<line x1="572.6" y1="207.9" x2="572.6" y2="209.9" stroke="#bbb" stroke-width="1" />
<line x1="595" y1="207.9" x2="595" y2="209.9" stroke="#bbb" stroke-width="1" />
<line x1="617.6" y1="207.9" x2="617.6" y2="209.9" stroke="#bbb" stroke-width="1" />
<line x1="639.6" y1="207.9" x2="639.6" y2="209.9" stroke="#bbb" stroke-width="1" />
<line x1="661.9" y1="207.9" x2="661.9" y2="209.9" stroke="#bbb" stroke-width="1" />
<line x1="573.6" y1="156.2" x2="680.9" y2="159.4" stroke="#111" stroke-width="1.6" />
<circle cx="573.6" cy="156.4" r="2.3" fill="#111"/>
<circle cx="577.3" cy="149.6" r="2.3" fill="#111"/>
<circle cx="584.2" cy="176.8" r="2.3" fill="#111"/>
<circle cx="592.4" cy="152.7" r="2.3" fill="#111"/>
<circle cx="599.2" cy="141.9" r="2.3" fill="#111"/>
<circle cx="610.8" cy="147.6" r="2.3" fill="#111"/>
<circle cx="623.1" cy="153.7" r="2.3" fill="#111"/>
<circle cx="622.3" cy="186.4" r="2.3" fill="#111"/>
<circle cx="658" cy="145.1" r="2.3" fill="#111"/>
<circle cx="680.9" cy="165.4" r="2.3" fill="#111"/>
<text x="593" y="205.4" font-size="11.5" fill="#333" stroke="#333" stroke-width="0.14" textLength="50" lengthAdjust="spacingAndGlyphs">R²=0.005</text>
<rect x="549.8" y="221.5" width="134.20000000000005" height="77.0" fill="#e8e8e8" stroke="none" stroke-width="1" />
<line x1="549.8" y1="221.5" x2="684" y2="221.5" stroke="#9e9e9e" stroke-width="1.5" />
<text x="547.4" y="225.0" font-size="10" fill="#222" stroke="#222" stroke-width="0.12" text-anchor="end" textLength="19" lengthAdjust="spacingAndGlyphs">0.80</text>
<line x1="549.8" y1="236.9" x2="684" y2="236.9" stroke="#9e9e9e" stroke-width="1.5" />
<text x="547.4" y="240.4" font-size="10" fill="#222" stroke="#222" stroke-width="0.12" text-anchor="end" textLength="19" lengthAdjust="spacingAndGlyphs">0.75</text>
<line x1="549.8" y1="252.3" x2="684" y2="252.3" stroke="#9e9e9e" stroke-width="1.5" />
<text x="547.4" y="255.8" font-size="10" fill="#222" stroke="#222" stroke-width="0.12" text-anchor="end" textLength="19" lengthAdjust="spacingAndGlyphs">0.70</text>
<line x1="549.8" y1="267.7" x2="684" y2="267.7" stroke="#9e9e9e" stroke-width="1.5" />
<text x="547.4" y="271.2" font-size="10" fill="#222" stroke="#222" stroke-width="0.12" text-anchor="end" textLength="19" lengthAdjust="spacingAndGlyphs">0.65</text>
<line x1="549.8" y1="283.1" x2="684" y2="283.1" stroke="#9e9e9e" stroke-width="1.5" />
<text x="547.4" y="286.6" font-size="10" fill="#222" stroke="#222" stroke-width="0.12" text-anchor="end" textLength="19" lengthAdjust="spacingAndGlyphs">0.60</text>
<line x1="549.8" y1="298.5" x2="684" y2="298.5" stroke="#9e9e9e" stroke-width="1.5" />
<text x="547.4" y="302.0" font-size="10" fill="#222" stroke="#222" stroke-width="0.12" text-anchor="end" textLength="19" lengthAdjust="spacingAndGlyphs">0.55</text>
<line x1="549.8" y1="220.75" x2="549.8" y2="299.25" stroke="#9e9e9e" stroke-width="1.6" />
<line x1="572.6" y1="298.5" x2="572.6" y2="300.5" stroke="#bbb" stroke-width="1" />
<line x1="595" y1="298.5" x2="595" y2="300.5" stroke="#bbb" stroke-width="1" />
<line x1="617.6" y1="298.5" x2="617.6" y2="300.5" stroke="#bbb" stroke-width="1" />
<line x1="639.6" y1="298.5" x2="639.6" y2="300.5" stroke="#bbb" stroke-width="1" />
<line x1="661.9" y1="298.5" x2="661.9" y2="300.5" stroke="#bbb" stroke-width="1" />
<line x1="575.2" y1="236" x2="672.7" y2="275.7" stroke="#111" stroke-width="1.6" />
<circle cx="575.2" cy="235.8" r="2.3" fill="#111"/>
<circle cx="592.6" cy="248.7" r="2.3" fill="#111"/>
<circle cx="597.7" cy="242.6" r="2.3" fill="#111"/>
<circle cx="602.8" cy="249.7" r="2.3" fill="#111"/>
<circle cx="615.5" cy="245" r="2.3" fill="#111"/>
<circle cx="616.1" cy="276.9" r="2.3" fill="#111"/>
<circle cx="640.6" cy="239.5" r="2.3" fill="#111"/>
<circle cx="644.7" cy="263.4" r="2.3" fill="#111"/>
<circle cx="672.3" cy="288.6" r="2.3" fill="#111"/>
<text x="593" y="295.3" font-size="11.5" fill="#333" stroke="#333" stroke-width="0.14" textLength="50" lengthAdjust="spacingAndGlyphs">R²=0.463</text>
<circle cx="624.3" cy="252.8" r="1.8" fill="#777"/>
<text transform="translate(506.4,75.5) rotate(-90)" font-size="12.8" fill="#222" stroke="#222" stroke-width="0.15" text-anchor="middle" textLength="24.4" lengthAdjust="spacingAndGlyphs">SNR</text>
<line x1="507.8" y1="63.3" x2="507.8" y2="87.7" stroke="#222" stroke-width="1"/>
<text transform="translate(506.4,165.7) rotate(-90)" font-size="12.8" fill="#222" stroke="#222" stroke-width="0.15" text-anchor="middle" textLength="28.3" lengthAdjust="spacingAndGlyphs">BgAv</text>
<line x1="507.8" y1="151.54999999999998" x2="507.8" y2="179.85" stroke="#222" stroke-width="1"/>
<text transform="translate(506.4,255.7) rotate(-90)" font-size="12.8" fill="#222" stroke="#222" stroke-width="0.15" text-anchor="middle" textLength="30.5" lengthAdjust="spacingAndGlyphs">BgSD</text>
<line x1="507.8" y1="240.45" x2="507.8" y2="270.95" stroke="#222" stroke-width="1"/>
<text transform="translate(522.3,73.3) rotate(-90)" font-size="12" fill="#222" stroke="#222" stroke-width="0.14" text-anchor="middle" textLength="49" lengthAdjust="spacingAndGlyphs">Accuracy</text>
<text transform="translate(522.3,165.7) rotate(-90)" font-size="12" fill="#222" stroke="#222" stroke-width="0.14" text-anchor="middle" textLength="49" lengthAdjust="spacingAndGlyphs">Accuracy</text>
<text transform="translate(522.3,256.8) rotate(-90)" font-size="12" fill="#222" stroke="#222" stroke-width="0.14" text-anchor="middle" textLength="49" lengthAdjust="spacingAndGlyphs">Accuracy</text>
<text x="26" y="342.7" font-size="17.5" fill="#111">d</text>
<text x="86.7" y="358.2" font-size="12" fill="#222" stroke="#222" stroke-width="0.14" textLength="151.8" lengthAdjust="spacingAndGlyphs">Correlation to cell treatment</text>
<path d="M75.2,465.2 C75.9,463.0 78.0,457.9 79.3,451.8 C80.6,445.7 81.8,437.2 82.8,428.4 C83.8,419.6 84.5,407.4 85.1,399.2 C85.7,391.0 85.7,383.3 86.3,379.3 C86.9,375.3 87.7,375.9 88.6,375.3 C89.5,374.7 90.7,374.7 91.5,375.8 C92.3,376.9 92.9,377.8 93.3,381.7 C93.7,385.6 93.6,392.4 93.9,399.2 C94.2,406.0 94.6,415.8 95.0,422.6 C95.4,429.4 95.7,438.8 96.2,440.1 C96.7,441.5 97.3,434.2 98.0,430.7 C98.7,427.2 99.6,420.9 100.3,419.0 C101.0,417.1 101.4,417.7 102.0,419.6 C102.6,421.6 103.1,426.5 103.8,430.7 C104.5,434.9 105.2,439.6 106.1,444.7 C107.0,449.8 108.1,457.7 109.0,461.1 C109.9,464.5 110.6,465.6 111.4,465.2 C112.2,464.8 112.9,460.2 113.7,458.8 C114.5,457.4 115.3,456.2 116.1,457.0 C116.9,457.8 117.6,462.0 118.4,463.4 C119.2,464.8 119.8,466.0 120.7,465.2 C121.6,464.4 122.6,460.2 123.6,458.8 C124.6,457.4 125.6,456.0 126.6,457.0 C127.6,458.0 129.0,463.3 129.5,464.6" fill="none" stroke="#6ab845" stroke-width="2.75" stroke-linejoin="round" stroke-linecap="round"/>
<path d="M65.8,465.2 C66.6,464.8 68.9,463.3 70.5,462.8 C72.1,462.3 73.8,465.3 75.2,462.3 C76.6,459.3 77.5,453.3 78.7,444.7 C79.9,436.1 81.4,418.1 82.2,410.9 C83.0,403.7 82.7,403.8 83.4,401.5 C84.1,399.2 85.3,398.8 86.3,397.4 C87.3,396.0 88.4,395.8 89.2,393.4 C90.0,391.0 90.3,384.4 90.9,382.8 C91.5,381.2 92.0,381.9 92.7,384.0 C93.4,386.1 94.3,391.2 95.0,395.7 C95.7,400.2 96.3,405.4 96.8,410.9 C97.3,416.3 97.5,423.1 98.0,428.4 C98.5,433.6 98.9,439.1 99.7,442.4 C100.5,445.7 101.7,446.4 102.6,448.2 C103.5,449.9 104.2,452.7 105.0,452.9 C105.8,453.1 106.6,448.4 107.3,449.4 C108.0,450.4 108.2,456.3 109.0,458.8 C109.8,461.3 111.0,463.8 112.0,464.6 C113.0,465.4 114.0,463.8 114.9,463.4 C115.8,463.0 116.4,462.1 117.2,462.3 C118.0,462.5 119.2,464.2 119.6,464.6" fill="none" stroke="#e3262b" stroke-width="2.75" stroke-linejoin="round" stroke-linecap="round"/>
<path d="M67.0,465.2 C68.0,464.9 71.2,465.6 72.8,463.4 C74.4,461.2 75.3,457.6 76.4,451.8 C77.5,446.0 78.3,435.8 79.3,428.4 C80.3,421.0 81.2,411.9 82.2,407.4 C83.2,402.9 84.1,403.1 85.1,401.5 C86.1,399.9 87.2,397.6 88.0,398.0 C88.8,398.4 89.2,400.8 89.8,403.9 C90.4,407.0 90.9,414.0 91.5,416.7 C92.1,419.4 92.7,420.0 93.3,420.2 C93.9,420.4 94.3,417.9 95.0,417.9 C95.7,417.9 96.5,418.6 97.4,420.2 C98.3,421.8 99.3,425.0 100.3,427.2 C101.3,429.4 102.2,431.5 103.2,433.1 C104.2,434.7 105.2,435.4 106.1,436.6 C107.0,437.8 107.8,437.6 108.5,440.1 C109.2,442.6 109.6,447.9 110.2,451.8 C110.8,455.7 111.4,461.2 112.0,463.4 C112.6,465.6 111.2,464.9 113.7,465.2 C116.2,465.5 124.4,466.5 127.2,465.2 C130.0,463.9 129.7,458.7 130.7,457.6 C131.7,456.5 132.2,457.6 133.0,458.8 C133.8,460.0 134.9,463.6 135.3,464.6" fill="none" stroke="#f3e61c" stroke-width="2.75" stroke-linejoin="round" stroke-linecap="round"/>
<path d="M193.0,465.6 C193.5,464.7 194.7,462.8 195.8,459.9 C196.9,457.0 198.3,451.7 199.6,448.5 C200.9,445.3 202.3,444.4 203.4,440.9 C204.5,437.4 205.4,433.0 206.2,427.6 C207.0,422.2 207.5,415.3 208.1,408.7 C208.7,402.1 209.2,392.2 209.7,387.8 C210.2,383.4 210.5,382.1 211.0,382.1 C211.5,382.1 212.0,383.4 212.5,387.8 C213.0,392.2 213.3,403.0 213.8,408.7 C214.3,414.4 214.9,418.8 215.7,421.9 C216.5,425.0 217.8,425.4 218.6,427.6 C219.4,429.8 219.9,433.0 220.5,435.2 C221.1,437.4 221.8,439.3 222.4,440.9 C223.0,442.5 223.7,443.4 224.3,444.7 C224.9,446.0 225.6,446.3 226.2,448.5 C226.8,450.7 227.5,455.5 228.1,458.0 C228.7,460.5 229.2,463.4 230.0,463.7 C230.8,464.0 231.9,461.2 232.8,459.9 C233.8,458.6 234.6,456.4 235.7,456.1 C236.8,455.8 238.2,457.4 239.5,458.0 C240.8,458.6 241.9,459.3 243.3,459.9 C244.7,460.5 246.6,461.0 248.0,461.8 C249.4,462.6 251.2,464.1 251.8,464.6" fill="none" stroke="#6ab845" stroke-width="2.75" stroke-linejoin="round" stroke-linecap="round"/>
<path d="M189.2,465.6 C189.7,464.7 191.1,462.4 192.0,459.9 C192.9,457.4 194.0,452.9 194.9,450.4 C195.8,447.9 196.6,446.6 197.7,444.7 C198.8,442.8 200.2,442.8 201.5,439.0 C202.8,435.2 204.2,426.6 205.3,421.9 C206.4,417.1 207.2,414.4 208.1,410.5 C209.0,406.6 210.2,399.1 211.0,398.2 C211.8,397.3 212.3,400.0 212.9,404.9 C213.5,409.8 214.2,420.7 214.8,427.6 C215.4,434.6 215.9,443.0 216.7,446.6 C217.5,450.2 218.6,449.2 219.5,449.5 C220.4,449.8 221.3,447.7 222.4,448.5 C223.5,449.3 225.1,452.8 226.2,454.2 C227.3,455.6 228.1,457.3 229.0,457.0 C229.9,456.7 231.1,453.7 231.9,452.3 C232.7,450.9 233.0,448.3 233.8,448.5 C234.6,448.7 235.5,451.4 236.6,453.3 C237.7,455.2 239.1,458.3 240.4,459.9 C241.7,461.5 243.2,461.8 244.2,462.7 C245.1,463.6 245.8,465.1 246.1,465.6" fill="none" stroke="#e3262b" stroke-width="2.75" stroke-linejoin="round" stroke-linecap="round"/>
<path d="M192.0,465.6 C192.6,464.8 194.5,462.4 195.8,460.8 C197.1,459.2 198.3,458.2 199.6,456.1 C200.9,454.1 202.3,452.3 203.4,448.5 C204.5,444.7 205.2,438.1 206.2,433.3 C207.1,428.6 208.1,422.9 209.1,420.0 C210.1,417.1 211.1,415.9 212.0,416.2 C212.9,416.5 213.9,419.7 214.8,421.9 C215.7,424.1 216.7,428.1 217.6,429.5 C218.5,430.9 219.6,429.6 220.5,430.5 C221.4,431.4 222.4,433.1 223.3,435.2 C224.2,437.2 225.2,440.3 226.2,442.8 C227.1,445.3 227.9,448.2 229.0,450.4 C230.1,452.6 231.5,454.2 232.8,456.1 C234.1,458.0 235.3,461.2 236.6,461.8 C237.9,462.4 239.1,460.4 240.4,459.9 C241.7,459.4 242.9,458.3 244.2,458.9 C245.5,459.5 246.4,462.6 248.0,463.7 C249.6,464.8 252.1,465.9 253.7,465.6 C255.3,465.3 256.4,462.9 257.5,461.8 C258.6,460.7 259.4,458.4 260.3,458.9 C261.2,459.4 261.8,463.7 263.2,464.6 C264.6,465.6 267.2,464.5 268.9,464.6 C270.6,464.7 272.8,465.1 273.6,465.2" fill="none" stroke="#f3e61c" stroke-width="2.75" stroke-linejoin="round" stroke-linecap="round"/>
<path d="M75.3,608.4 C75.6,607.3 76.6,603.7 77.2,601.8 C77.8,599.9 78.5,598.3 79.1,597.0 C79.7,595.7 80.4,594.4 81.0,594.2 C81.6,594.1 82.3,596.6 82.9,596.1 C83.5,595.6 84.2,590.8 84.8,591.4 C85.4,592.0 86.1,599.1 86.7,599.9 C87.3,600.7 88.0,598.0 88.6,596.1 C89.2,594.2 89.9,591.7 90.5,588.5 C91.1,585.3 91.6,582.2 92.4,577.1 C93.2,572.0 94.2,564.4 95.2,558.1 C96.2,551.8 97.1,545.4 98.1,539.2 C99.0,533.0 100.1,523.6 100.9,521.1 C101.7,518.6 102.2,520.4 102.8,524.0 C103.4,527.6 103.8,536.7 104.3,543.0 C104.8,549.3 105.2,555.6 105.7,561.9 C106.2,568.2 106.8,575.5 107.6,580.9 C108.4,586.3 109.3,590.1 110.4,594.2 C111.5,598.3 112.9,603.2 114.2,605.6 C115.5,608.0 117.4,607.9 118.0,608.4" fill="none" stroke="#6ab845" stroke-width="2.75" stroke-linejoin="round" stroke-linecap="round"/>
<path d="M72.4,608.4 C73.5,608.2 77.5,608.3 79.1,607.5 C80.7,606.7 80.8,605.3 81.9,603.7 C83.0,602.1 84.4,600.5 85.7,598.0 C87.0,595.5 88.4,591.7 89.5,588.5 C90.6,585.3 91.5,581.5 92.4,579.0 C93.4,576.5 94.4,576.8 95.2,573.3 C96.0,569.8 96.5,562.5 97.1,558.1 C97.7,553.7 98.2,548.5 99.0,546.8 C99.8,545.1 101.0,547.2 101.9,547.7 C102.9,548.2 103.9,548.5 104.7,549.6 C105.5,550.7 106.0,551.0 106.6,554.3 C107.2,557.6 107.9,564.4 108.5,569.5 C109.1,574.6 109.6,580.3 110.4,584.7 C111.2,589.1 112.3,593.2 113.3,596.1 C114.2,599.0 115.0,600.2 116.1,601.8 C117.2,603.4 118.3,604.5 119.9,605.6 C121.5,606.7 124.6,607.9 125.6,608.4" fill="none" stroke="#e3262b" stroke-width="2.75" stroke-linejoin="round" stroke-linecap="round"/>
<path d="M83.8,608.4 C84.4,607.9 86.5,607.3 87.6,605.6 C88.7,603.9 89.5,599.1 90.5,598.0 C91.5,596.9 92.3,598.6 93.3,598.9 C94.2,599.2 95.2,601.6 96.2,599.9 C97.2,598.2 98.2,592.6 99.0,588.5 C99.8,584.4 100.3,579.6 100.9,575.2 C101.5,570.8 102.2,563.8 102.8,561.9 C103.4,560.0 104.1,563.2 104.7,563.8 C105.3,564.4 106.0,567.3 106.6,565.7 C107.2,564.1 107.9,558.1 108.5,554.3 C109.1,550.5 109.8,545.2 110.4,543.0 C111.0,540.8 111.7,539.8 112.3,541.1 C112.9,542.4 113.4,546.2 114.2,550.6 C115.0,555.0 116.1,562.2 117.1,567.6 C118.0,573.0 119.0,579.0 119.9,582.8 C120.8,586.6 121.8,587.5 122.7,590.4 C123.7,593.2 124.6,597.0 125.6,599.9 C126.5,602.8 127.1,606.1 128.4,607.5 C129.7,608.9 132.4,608.2 133.2,608.4" fill="none" stroke="#f3e61c" stroke-width="2.75" stroke-linejoin="round" stroke-linecap="round"/>
<line x1="55.5" y1="372.5" x2="55.5" y2="466.9" stroke="#333" stroke-width="1.8" />
<line x1="54.6" y1="466" x2="149.5" y2="466" stroke="#333" stroke-width="1.8" />
<line x1="187.3" y1="372.5" x2="187.3" y2="466.9" stroke="#333" stroke-width="1.8" />
<line x1="186.4" y1="466" x2="280.8" y2="466" stroke="#333" stroke-width="1.8" />
<line x1="61.5" y1="514" x2="61.5" y2="609.3" stroke="#333" stroke-width="1.8" />
<line x1="60.6" y1="608.6" x2="155.5" y2="608.6" stroke="#333" stroke-width="1.8" />
<text x="53.5" y="469.0" font-size="8.5" fill="#222" stroke="#222" stroke-width="0.10" text-anchor="end">0</text>
<text x="183.8" y="469.0" font-size="8.5" fill="#222" stroke="#222" stroke-width="0.10" text-anchor="end">0</text>
<text x="53.5" y="457.4" font-size="8.5" fill="#222" stroke="#222" stroke-width="0.10" text-anchor="end">1</text>
<text x="183.8" y="457.4" font-size="8.5" fill="#222" stroke="#222" stroke-width="0.10" text-anchor="end">1</text>
<text x="53.5" y="445.8" font-size="8.5" fill="#222" stroke="#222" stroke-width="0.10" text-anchor="end">2</text>
<text x="183.8" y="445.8" font-size="8.5" fill="#222" stroke="#222" stroke-width="0.10" text-anchor="end">2</text>
<text x="53.5" y="434.2" font-size="8.5" fill="#222" stroke="#222" stroke-width="0.10" text-anchor="end">3</text>
<text x="183.8" y="434.2" font-size="8.5" fill="#222" stroke="#222" stroke-width="0.10" text-anchor="end">3</text>
<text x="53.5" y="422.6" font-size="8.5" fill="#222" stroke="#222" stroke-width="0.10" text-anchor="end">4</text>
<text x="183.8" y="422.6" font-size="8.5" fill="#222" stroke="#222" stroke-width="0.10" text-anchor="end">4</text>
<text x="53.5" y="411.0" font-size="8.5" fill="#222" stroke="#222" stroke-width="0.10" text-anchor="end">5</text>
<text x="183.8" y="411.0" font-size="8.5" fill="#222" stroke="#222" stroke-width="0.10" text-anchor="end">5</text>
<text x="53.5" y="399.4" font-size="8.5" fill="#222" stroke="#222" stroke-width="0.10" text-anchor="end">6</text>
<text x="183.8" y="399.4" font-size="8.5" fill="#222" stroke="#222" stroke-width="0.10" text-anchor="end">6</text>
<text x="53.5" y="387.8" font-size="8.5" fill="#222" stroke="#222" stroke-width="0.10" text-anchor="end">7</text>
<text x="183.8" y="387.8" font-size="8.5" fill="#222" stroke="#222" stroke-width="0.10" text-anchor="end">7</text>
<text x="53.5" y="376.2" font-size="8.5" fill="#222" stroke="#222" stroke-width="0.10" text-anchor="end">8</text>
<text x="183.8" y="376.2" font-size="8.5" fill="#222" stroke="#222" stroke-width="0.10" text-anchor="end">8</text>
<text x="53.8" y="475.6" font-size="6.3" fill="#222" stroke="#222" stroke-width="0.08" text-anchor="middle">-0.2</text>
<text x="67.5" y="475.6" font-size="6.3" fill="#222" stroke="#222" stroke-width="0.08" text-anchor="middle">-0.1</text>
<text x="81.2" y="475.6" font-size="6.3" fill="#222" stroke="#222" stroke-width="0.08" text-anchor="middle">0.0</text>
<text x="94.9" y="475.6" font-size="6.3" fill="#222" stroke="#222" stroke-width="0.08" text-anchor="middle">0.1</text>
<text x="108.60000000000001" y="475.6" font-size="6.3" fill="#222" stroke="#222" stroke-width="0.08" text-anchor="middle">0.2</text>
<text x="122.30000000000001" y="475.6" font-size="6.3" fill="#222" stroke="#222" stroke-width="0.08" text-anchor="middle">0.3</text>
<text x="136.0" y="475.6" font-size="6.3" fill="#222" stroke="#222" stroke-width="0.08" text-anchor="middle">0.4</text>
<text x="149.7" y="475.6" font-size="6.3" fill="#222" stroke="#222" stroke-width="0.08" text-anchor="middle">0.5</text>
<text x="184.8" y="475.6" font-size="6.3" fill="#222" stroke="#222" stroke-width="0.08" text-anchor="middle">0.2</text>
<text x="206.8" y="475.6" font-size="6.3" fill="#222" stroke="#222" stroke-width="0.08" text-anchor="middle">0.4</text>
<text x="228.5" y="475.6" font-size="6.3" fill="#222" stroke="#222" stroke-width="0.08" text-anchor="middle">0.6</text>
<text x="250" y="475.6" font-size="6.3" fill="#222" stroke="#222" stroke-width="0.08" text-anchor="middle">0.8</text>
<text x="271.5" y="475.6" font-size="6.3" fill="#222" stroke="#222" stroke-width="0.08" text-anchor="middle">1</text>
<text x="59.3" y="612.0" font-size="10" fill="#222" stroke="#222" stroke-width="0.12" text-anchor="end" textLength="20" lengthAdjust="spacingAndGlyphs">0.00</text>
<text x="59.3" y="596.34" font-size="10" fill="#222" stroke="#222" stroke-width="0.12" text-anchor="end" textLength="20" lengthAdjust="spacingAndGlyphs">0.05</text>
<text x="59.3" y="580.68" font-size="10" fill="#222" stroke="#222" stroke-width="0.12" text-anchor="end" textLength="20" lengthAdjust="spacingAndGlyphs">0.10</text>
<text x="59.3" y="565.02" font-size="10" fill="#222" stroke="#222" stroke-width="0.12" text-anchor="end" textLength="20" lengthAdjust="spacingAndGlyphs">0.15</text>
<text x="59.3" y="549.36" font-size="10" fill="#222" stroke="#222" stroke-width="0.12" text-anchor="end" textLength="20" lengthAdjust="spacingAndGlyphs">0.20</text>
<text x="59.3" y="533.7" font-size="10" fill="#222" stroke="#222" stroke-width="0.12" text-anchor="end" textLength="20" lengthAdjust="spacingAndGlyphs">0.25</text>
<text x="59.3" y="518.04" font-size="10" fill="#222" stroke="#222" stroke-width="0.12" text-anchor="end" textLength="20" lengthAdjust="spacingAndGlyphs">0.30</text>
<text x="59.2" y="618.4" font-size="6.5" fill="#222" stroke="#222" stroke-width="0.08" text-anchor="middle">10</text>
<text x="78.5" y="618.4" font-size="6.5" fill="#222" stroke="#222" stroke-width="0.08" text-anchor="middle">15</text>
<text x="97.8" y="618.4" font-size="6.5" fill="#222" stroke="#222" stroke-width="0.08" text-anchor="middle">20</text>
<text x="116.8" y="618.4" font-size="6.5" fill="#222" stroke="#222" stroke-width="0.08" text-anchor="middle">25</text>
<text x="135.8" y="618.4" font-size="6.5" fill="#222" stroke="#222" stroke-width="0.08" text-anchor="middle">30</text>
<text x="155" y="618.4" font-size="6.5" fill="#222" stroke="#222" stroke-width="0.08" text-anchor="middle">35</text>
<text transform="translate(42.5,418.6) rotate(-90)" font-size="12.3" fill="#222" stroke="#222" stroke-width="0.15" text-anchor="middle" textLength="58" lengthAdjust="spacingAndGlyphs">Frequency</text>
<text transform="translate(172.5,418.6) rotate(-90)" font-size="12.3" fill="#222" stroke="#222" stroke-width="0.15" text-anchor="middle" textLength="58" lengthAdjust="spacingAndGlyphs">Frequency</text>
<text transform="translate(36,562) rotate(-90)" font-size="12" fill="#222" stroke="#222" stroke-width="0.14" text-anchor="middle" textLength="55" lengthAdjust="spacingAndGlyphs">Frequency</text>
<text x="76" y="486.1" font-size="12.4" fill="#222" stroke="#222" stroke-width="0.15" textLength="59" lengthAdjust="spacingAndGlyphs">BgAv (um)</text>
<text x="200.5" y="486.6" font-size="12.4" fill="#222" stroke="#222" stroke-width="0.15" textLength="61.8" lengthAdjust="spacingAndGlyphs">BgSD (um)</text>
<text x="83.3" y="630.3" font-size="12" fill="#222" stroke="#222" stroke-width="0.14" textLength="52.5" lengthAdjust="spacingAndGlyphs">SNR (dB)</text>
<rect x="179.6" y="520.8" width="79.2" height="78.3" fill="#fff" stroke="#222" stroke-width="1.3" />
<rect x="185.2" y="528" width="18" height="11.7" fill="#6cbb45" stroke="none" stroke-width="1" />
<rect x="185.2" y="553.6" width="18" height="11.9" fill="#e8202a" stroke="none" stroke-width="1" />
<rect x="185.2" y="579.2" width="18" height="12.3" fill="#f2e51c" stroke="none" stroke-width="1" />
<text x="204" y="536.2" font-size="8" fill="#222" stroke="#222" stroke-width="0.10" textLength="48.8" lengthAdjust="spacingAndGlyphs">No Treatment</text>
<text x="206.2" y="562.2" font-size="8" fill="#222" stroke="#222" stroke-width="0.10" textLength="41.8" lengthAdjust="spacingAndGlyphs">PD0332991</text>
<text x="205.5" y="588.3" font-size="8" fill="#222" stroke="#222" stroke-width="0.10" textLength="49.7" lengthAdjust="spacingAndGlyphs">Staurosporine</text>
<text x="384" y="342.9" font-size="17.5" fill="#111">e</text>
<line x1="423" y1="479.6" x2="663" y2="479.6" stroke="#e0242c" stroke-width="3" stroke-dasharray="7.9 3.9"/>
<line x1="440.8" y1="432.4" x2="440.8" y2="502.2" stroke="#222" stroke-width="1.6" />
<line x1="440.8" y1="521.8" x2="440.8" y2="536.5" stroke="#222" stroke-width="1.6" />
<line x1="437.15000000000003" y1="432.4" x2="444.45" y2="432.4" stroke="#222" stroke-width="1.6" />
<line x1="437.15000000000003" y1="536.5" x2="444.45" y2="536.5" stroke="#222" stroke-width="1.6" />
<rect x="434.1" y="502.2" width="13.4" height="19.599999999999966" fill="#7283c5" stroke="#1c1c28" stroke-width="1.8" />
<line x1="434.1" y1="509.8" x2="447.5" y2="509.8" stroke="#1c1c28" stroke-width="1.8" />
<line x1="462.7" y1="446.6" x2="462.7" y2="495.5" stroke="#222" stroke-width="1.6" />
<line x1="462.7" y1="519.3" x2="462.7" y2="537.2" stroke="#222" stroke-width="1.6" />
<line x1="459.05" y1="446.6" x2="466.34999999999997" y2="446.6" stroke="#222" stroke-width="1.6" />
<line x1="459.05" y1="537.2" x2="466.34999999999997" y2="537.2" stroke="#222" stroke-width="1.6" />
<rect x="456.0" y="495.5" width="13.4" height="23.799999999999955" fill="#7283c5" stroke="#1c1c28" stroke-width="1.8" />
<line x1="456.0" y1="506.9" x2="469.4" y2="506.9" stroke="#1c1c28" stroke-width="1.8" />
<line x1="484.6" y1="448.9" x2="484.6" y2="513" stroke="#222" stroke-width="1.6" />
<line x1="484.6" y1="530.5" x2="484.6" y2="544.1" stroke="#222" stroke-width="1.6" />
<line x1="480.95000000000005" y1="448.9" x2="488.25" y2="448.9" stroke="#222" stroke-width="1.6" />
<line x1="480.95000000000005" y1="544.1" x2="488.25" y2="544.1" stroke="#222" stroke-width="1.6" />
<rect x="477.90000000000003" y="513" width="13.4" height="17.5" fill="#7283c5" stroke="#1c1c28" stroke-width="1.8" />
<line x1="477.90000000000003" y1="522.6" x2="491.3" y2="522.6" stroke="#1c1c28" stroke-width="1.8" />
<line x1="506.3" y1="442.6" x2="506.3" y2="495.6" stroke="#222" stroke-width="1.6" />
<line x1="506.3" y1="526.1" x2="506.3" y2="542.6" stroke="#222" stroke-width="1.6" />
<line x1="502.65000000000003" y1="442.6" x2="509.95" y2="442.6" stroke="#222" stroke-width="1.6" />
<line x1="502.65000000000003" y1="542.6" x2="509.95" y2="542.6" stroke="#222" stroke-width="1.6" />
<rect x="499.6" y="495.6" width="13.4" height="30.5" fill="#7283c5" stroke="#1c1c28" stroke-width="1.8" />
<line x1="499.6" y1="510.2" x2="513.0" y2="510.2" stroke="#1c1c28" stroke-width="1.8" />
<line x1="540.4" y1="404.1" x2="540.4" y2="440.9" stroke="#222" stroke-width="1.6" />
<line x1="540.4" y1="492.3" x2="540.4" y2="514.9" stroke="#222" stroke-width="1.6" />
<line x1="536.75" y1="404.1" x2="544.05" y2="404.1" stroke="#222" stroke-width="1.6" />
<line x1="536.75" y1="514.9" x2="544.05" y2="514.9" stroke="#222" stroke-width="1.6" />
<rect x="533.6999999999999" y="440.9" width="13.4" height="51.400000000000034" fill="#f47f6c" stroke="#281c1c" stroke-width="1.8" />
<line x1="533.6999999999999" y1="470.8" x2="547.1" y2="470.8" stroke="#281c1c" stroke-width="1.8" />
<line x1="562.3" y1="419.7" x2="562.3" y2="490.8" stroke="#222" stroke-width="1.6" />
<line x1="562.3" y1="501.9" x2="562.3" y2="507.6" stroke="#222" stroke-width="1.6" />
<line x1="558.65" y1="419.7" x2="565.9499999999999" y2="419.7" stroke="#222" stroke-width="1.6" />
<line x1="558.65" y1="507.6" x2="565.9499999999999" y2="507.6" stroke="#222" stroke-width="1.6" />
<rect x="555.5999999999999" y="490.8" width="13.4" height="11.099999999999966" fill="#f47f6c" stroke="#281c1c" stroke-width="1.8" />
<line x1="555.5999999999999" y1="496.1" x2="569.0" y2="496.1" stroke="#281c1c" stroke-width="1.8" />
<line x1="584.2" y1="420.1" x2="584.2" y2="488.3" stroke="#222" stroke-width="1.6" />
<line x1="584.2" y1="508.8" x2="584.2" y2="525.8" stroke="#222" stroke-width="1.6" />
<line x1="580.5500000000001" y1="420.1" x2="587.85" y2="420.1" stroke="#222" stroke-width="1.6" />
<line x1="580.5500000000001" y1="525.8" x2="587.85" y2="525.8" stroke="#222" stroke-width="1.6" />
<rect x="577.5" y="488.3" width="13.4" height="20.5" fill="#f47f6c" stroke="#281c1c" stroke-width="1.8" />
<line x1="577.5" y1="501.8" x2="590.9000000000001" y2="501.8" stroke="#281c1c" stroke-width="1.8" />
<line x1="606.1" y1="425.3" x2="606.1" y2="471.6" stroke="#222" stroke-width="1.6" />
<line x1="606.1" y1="496.4" x2="606.1" y2="512.8" stroke="#222" stroke-width="1.6" />
<line x1="602.45" y1="425.3" x2="609.75" y2="425.3" stroke="#222" stroke-width="1.6" />
<line x1="602.45" y1="512.8" x2="609.75" y2="512.8" stroke="#222" stroke-width="1.6" />
<rect x="599.4" y="471.6" width="13.4" height="24.799999999999955" fill="#f47f6c" stroke="#281c1c" stroke-width="1.8" />
<line x1="599.4" y1="483.2" x2="612.8000000000001" y2="483.2" stroke="#281c1c" stroke-width="1.8" />
<line x1="628" y1="378.9" x2="628" y2="469.4" stroke="#222" stroke-width="1.6" />
<line x1="628" y1="499.7" x2="628" y2="516.5" stroke="#222" stroke-width="1.6" />
<line x1="624.35" y1="378.9" x2="631.65" y2="378.9" stroke="#222" stroke-width="1.6" />
<line x1="624.35" y1="516.5" x2="631.65" y2="516.5" stroke="#222" stroke-width="1.6" />
<rect x="621.3" y="469.4" width="13.4" height="30.30000000000001" fill="#f47f6c" stroke="#281c1c" stroke-width="1.8" />
<line x1="621.3" y1="485.8" x2="634.7" y2="485.8" stroke="#281c1c" stroke-width="1.8" />
<line x1="649.8" y1="446.3" x2="649.8" y2="492.8" stroke="#222" stroke-width="1.6" />
<line x1="649.8" y1="504.1" x2="649.8" y2="517" stroke="#222" stroke-width="1.6" />
<line x1="646.15" y1="446.3" x2="653.4499999999999" y2="446.3" stroke="#222" stroke-width="1.6" />
<line x1="646.15" y1="517" x2="653.4499999999999" y2="517" stroke="#222" stroke-width="1.6" />
<rect x="643.0999999999999" y="492.8" width="13.4" height="11.300000000000011" fill="#f47f6c" stroke="#281c1c" stroke-width="1.8" />
<line x1="643.0999999999999" y1="498.9" x2="656.5" y2="498.9" stroke="#281c1c" stroke-width="1.8" />
<line x1="423" y1="479.6" x2="663" y2="479.6" stroke="#e0242c" stroke-width="3" stroke-dasharray="7.9 3.9"/>
<line x1="430.1" y1="355.7" x2="430.1" y2="610.6" stroke="#111" stroke-width="1.6" />
<line x1="422" y1="609.8" x2="662.2" y2="609.8" stroke="#111" stroke-width="1.6" />
<line x1="422.3" y1="356.20000000000005" x2="430.1" y2="356.20000000000005" stroke="#111" stroke-width="1.6" />
<text x="419.5" y="360.6" font-size="12.3" fill="#1a1a1a" stroke="#1a1a1a" stroke-width="0.15" text-anchor="end" textLength="17.3" lengthAdjust="spacingAndGlyphs">1.0</text>
<line x1="422.3" y1="406.80000000000007" x2="430.1" y2="406.80000000000007" stroke="#111" stroke-width="1.6" />
<text x="419.5" y="411.20000000000005" font-size="12.3" fill="#1a1a1a" stroke="#1a1a1a" stroke-width="0.15" text-anchor="end" textLength="17.3" lengthAdjust="spacingAndGlyphs">0.8</text>
<line x1="422.3" y1="457.4000000000001" x2="430.1" y2="457.4000000000001" stroke="#111" stroke-width="1.6" />
<text x="419.5" y="461.80000000000007" font-size="12.3" fill="#1a1a1a" stroke="#1a1a1a" stroke-width="0.15" text-anchor="end" textLength="17.3" lengthAdjust="spacingAndGlyphs">0.6</text>
<line x1="422.3" y1="508.00000000000006" x2="430.1" y2="508.00000000000006" stroke="#111" stroke-width="1.6" />
<text x="419.5" y="512.4000000000001" font-size="12.3" fill="#1a1a1a" stroke="#1a1a1a" stroke-width="0.15" text-anchor="end" textLength="17.3" lengthAdjust="spacingAndGlyphs">0.4</text>
<line x1="422.3" y1="558.6" x2="430.1" y2="558.6" stroke="#111" stroke-width="1.6" />
<text x="419.5" y="563.0" font-size="12.3" fill="#1a1a1a" stroke="#1a1a1a" stroke-width="0.15" text-anchor="end" textLength="17.3" lengthAdjust="spacingAndGlyphs">0.2</text>
<line x1="422.3" y1="609.2" x2="430.1" y2="609.2" stroke="#111" stroke-width="1.6" />
<text x="419.5" y="613.6" font-size="12.3" fill="#1a1a1a" stroke="#1a1a1a" stroke-width="0.15" text-anchor="end" textLength="17.3" lengthAdjust="spacingAndGlyphs">0.0</text>
<line x1="440.9" y1="609.8" x2="440.9" y2="613.5" stroke="#111" stroke-width="1.5" />
<line x1="462.8" y1="609.8" x2="462.8" y2="613.5" stroke="#111" stroke-width="1.5" />
<line x1="484.7" y1="609.8" x2="484.7" y2="613.5" stroke="#111" stroke-width="1.5" />
<line x1="506.6" y1="609.8" x2="506.6" y2="613.5" stroke="#111" stroke-width="1.5" />
<line x1="532.5" y1="609.8" x2="532.5" y2="613.5" stroke="#111" stroke-width="1.5" />
<line x1="554.4" y1="609.8" x2="554.4" y2="613.5" stroke="#111" stroke-width="1.5" />
<line x1="576.6" y1="609.8" x2="576.6" y2="613.5" stroke="#111" stroke-width="1.5" />
<line x1="598.3" y1="609.8" x2="598.3" y2="613.5" stroke="#111" stroke-width="1.5" />
<line x1="620" y1="609.8" x2="620" y2="613.5" stroke="#111" stroke-width="1.5" />
<line x1="641.6" y1="609.8" x2="641.6" y2="613.5" stroke="#111" stroke-width="1.5" />
<line x1="523.5" y1="347" x2="523.5" y2="609.8" stroke="#111" stroke-width="1.2" stroke-dasharray="3 1.8"/>
<text x="431.8" y="622.6" font-size="12.8" fill="#111" stroke="#111" stroke-width="0.15" text-anchor="middle">1</text>
<text x="453.3" y="622.6" font-size="12.8" fill="#111" stroke="#111" stroke-width="0.15" text-anchor="middle">2</text>
<text x="474.6" y="622.6" font-size="12.8" fill="#111" stroke="#111" stroke-width="0.15" text-anchor="middle">3</text>
<text x="495.7" y="622.6" font-size="12.8" fill="#111" stroke="#111" stroke-width="0.15" text-anchor="middle">4</text>
<text x="540.5" y="622.6" font-size="12.8" fill="#111" stroke="#111" stroke-width="0.15" text-anchor="middle">1</text>
<text x="562.1" y="622.6" font-size="12.8" fill="#111" stroke="#111" stroke-width="0.15" text-anchor="middle">2</text>
<text x="583.8" y="622.6" font-size="12.8" fill="#111" stroke="#111" stroke-width="0.15" text-anchor="middle">3</text>
<text x="605.5" y="622.6" font-size="12.8" fill="#111" stroke="#111" stroke-width="0.15" text-anchor="middle">4</text>
<text x="627.7" y="622.6" font-size="12.8" fill="#111" stroke="#111" stroke-width="0.15" text-anchor="middle">5</text>
<text x="649.3" y="622.6" font-size="12.8" fill="#111" stroke="#111" stroke-width="0.15" text-anchor="middle">6</text>
<line x1="422.2" y1="625.9" x2="506.3" y2="625.9" stroke="#111" stroke-width="1.5" />
<line x1="531.2" y1="625.9" x2="659.8" y2="625.9" stroke="#111" stroke-width="1.5" />
<text x="429" y="639.7" font-size="13.6" fill="#222" stroke="#222" stroke-width="0.16" textLength="70.5" lengthAdjust="spacingAndGlyphs">Experiment</text>
<text x="559" y="639.7" font-size="13.6" fill="#222" stroke="#222" stroke-width="0.16" textLength="70.8" lengthAdjust="spacingAndGlyphs">Experiment</text>
<text x="451.2" y="356.9" font-size="14" fill="#222" stroke="#222" stroke-width="0.17" textLength="48.3" lengthAdjust="spacingAndGlyphs">Optimal</text>
<text x="565.3" y="356.9" font-size="14" fill="#222" stroke="#222" stroke-width="0.17" textLength="70" lengthAdjust="spacingAndGlyphs">Suboptimal</text>
<text transform="translate(398.7,474.5) rotate(-90)" font-size="12" fill="#222" stroke="#222" stroke-width="0.14" text-anchor="middle" textLength="30.7" lengthAdjust="spacingAndGlyphs">BgSD</text>
<text x="42" y="674.3" font-size="17" fill="#111">f</text>
<line x1="137.6" y1="827.744" x2="137.6" y2="872.024" stroke="#222" stroke-width="1.5" />
<line x1="137.6" y1="890.4576000000001" x2="137.6" y2="927.128" stroke="#222" stroke-width="1.5" />
<line x1="131.6" y1="827.744" x2="143.6" y2="827.744" stroke="#222" stroke-width="1.5" />
<line x1="131.6" y1="927.128" x2="143.6" y2="927.128" stroke="#222" stroke-width="1.5" />
<rect x="124.6" y="872.024" width="26" height="18.43360000000007" fill="#7283c5" stroke="#1c1c28" stroke-width="1.6" />
<line x1="124.6" y1="880.6832" x2="150.6" y2="880.6832" stroke="#1c1c28" stroke-width="1.6" />
<line x1="225.5" y1="741.808" x2="225.5" y2="819.8720000000001" stroke="#222" stroke-width="1.5" />
<line x1="225.5" y1="872.024" x2="225.5" y2="913.5488" stroke="#222" stroke-width="1.5" />
<line x1="219.5" y1="741.808" x2="231.5" y2="741.808" stroke="#222" stroke-width="1.5" />
<line x1="219.5" y1="913.5488" x2="231.5" y2="913.5488" stroke="#222" stroke-width="1.5" />
<rect x="212.5" y="819.8720000000001" width="26" height="52.15199999999993" fill="#f47f6c" stroke="#281c1c" stroke-width="1.6" />
<line x1="212.5" y1="850.048" x2="238.5" y2="850.048" stroke="#281c1c" stroke-width="1.6" />
<line x1="97.8" y1="680.5" x2="97.8" y2="944.4" stroke="#111" stroke-width="1.6" />
<line x1="97" y1="943.6" x2="260.6" y2="943.6" stroke="#111" stroke-width="1.6" />
<line x1="93" y1="680.8000000000001" x2="97.8" y2="680.8000000000001" stroke="#111" stroke-width="1.5" />
<text x="89.6" y="685.1500000000001" font-size="12.1" fill="#1a1a1a" stroke="#1a1a1a" stroke-width="0.15" text-anchor="end" textLength="24" lengthAdjust="spacingAndGlyphs">0.30</text>
<line x1="93" y1="713.6" x2="97.8" y2="713.6" stroke="#111" stroke-width="1.5" />
<text x="89.6" y="717.95" font-size="12.1" fill="#1a1a1a" stroke="#1a1a1a" stroke-width="0.15" text-anchor="end" textLength="24" lengthAdjust="spacingAndGlyphs">0.25</text>
<line x1="93" y1="746.4000000000001" x2="97.8" y2="746.4000000000001" stroke="#111" stroke-width="1.5" />
<text x="89.6" y="750.7500000000001" font-size="12.1" fill="#1a1a1a" stroke="#1a1a1a" stroke-width="0.15" text-anchor="end" textLength="24" lengthAdjust="spacingAndGlyphs">0.20</text>
<line x1="93" y1="779.2" x2="97.8" y2="779.2" stroke="#111" stroke-width="1.5" />
<text x="89.6" y="783.5500000000001" font-size="12.1" fill="#1a1a1a" stroke="#1a1a1a" stroke-width="0.15" text-anchor="end" textLength="24" lengthAdjust="spacingAndGlyphs">0.15</text>
<line x1="93" y1="812.0" x2="97.8" y2="812.0" stroke="#111" stroke-width="1.5" />
<text x="89.6" y="816.35" font-size="12.1" fill="#1a1a1a" stroke="#1a1a1a" stroke-width="0.15" text-anchor="end" textLength="24" lengthAdjust="spacingAndGlyphs">0.10</text>
<line x1="93" y1="844.8000000000001" x2="97.8" y2="844.8000000000001" stroke="#111" stroke-width="1.5" />
<text x="89.6" y="849.1500000000001" font-size="12.1" fill="#1a1a1a" stroke="#1a1a1a" stroke-width="0.15" text-anchor="end" textLength="24" lengthAdjust="spacingAndGlyphs">0.05</text>
<line x1="93" y1="877.6" x2="97.8" y2="877.6" stroke="#111" stroke-width="1.5" />
<text x="89.6" y="881.95" font-size="12.1" fill="#1a1a1a" stroke="#1a1a1a" stroke-width="0.15" text-anchor="end" textLength="24" lengthAdjust="spacingAndGlyphs">0.00</text>
<line x1="93" y1="910.4000000000001" x2="97.8" y2="910.4000000000001" stroke="#111" stroke-width="1.5" />
<text x="89.6" y="914.7500000000001" font-size="12.1" fill="#1a1a1a" stroke="#1a1a1a" stroke-width="0.15" text-anchor="end" textLength="29.5" lengthAdjust="spacingAndGlyphs">-0.05</text>
<line x1="93" y1="943.2" x2="97.8" y2="943.2" stroke="#111" stroke-width="1.5" />
<text x="89.6" y="947.5500000000001" font-size="12.1" fill="#1a1a1a" stroke="#1a1a1a" stroke-width="0.15" text-anchor="end" textLength="29.5" lengthAdjust="spacingAndGlyphs">-0.10</text>
<line x1="179.4" y1="943.6" x2="179.4" y2="947.8" stroke="#111" stroke-width="1.4" />
<line x1="260" y1="943.6" x2="260" y2="947.8" stroke="#111" stroke-width="1.4" />
<text transform="translate(61.3,805.3) rotate(-90)" font-size="11" fill="#222" stroke="#222" stroke-width="0.13" text-anchor="middle" textLength="163.5" lengthAdjust="spacingAndGlyphs">Change in Classification Accuracy</text>
<text x="112.5" y="960.3" font-size="14" fill="#222" stroke="#222" stroke-width="0.17" textLength="47.2" lengthAdjust="spacingAndGlyphs">Optimal</text>
<text x="188.6" y="960.3" font-size="14" fill="#222" stroke="#222" stroke-width="0.17" textLength="69.2" lengthAdjust="spacingAndGlyphs">Suboptimal</text>
<text x="92.8" y="976" font-size="11.4" fill="#222" stroke="#222" stroke-width="0.14" textLength="84.6" lengthAdjust="spacingAndGlyphs">Original Accuracy</text>
<text x="179.1" y="976" font-size="11.4" fill="#222" stroke="#222" stroke-width="0.14" textLength="85.5" lengthAdjust="spacingAndGlyphs">Original Accuracy</text>
<text x="136.6" y="990" font-size="11.4" fill="#222" stroke="#222" stroke-width="0.14" text-anchor="middle" textLength="29" lengthAdjust="spacingAndGlyphs">&gt;65%</text>
<text x="223.1" y="990" font-size="11.4" fill="#222" stroke="#222" stroke-width="0.14" text-anchor="middle" textLength="28.3" lengthAdjust="spacingAndGlyphs">&lt;65%</text>
<text x="371" y="674.5" font-size="17.5" fill="#111">g</text>
<rect x="412" y="690.4" width="260.3" height="262.1" fill="#e9e9e9" stroke="none" stroke-width="1" />
<g stroke="#4a6db3" stroke-width="1.7">
<line x1="417.00" y1="805.1" x2="417.00" y2="826.3"/>
<line x1="415.40" y1="805.1" x2="418.60" y2="805.1" stroke-width="1.3"/>
<line x1="415.40" y1="826.3" x2="418.60" y2="826.3" stroke-width="1.3"/>
<line x1="422.31" y1="807.2" x2="422.31" y2="824.8"/>
<line x1="420.71" y1="807.2" x2="423.91" y2="807.2" stroke-width="1.3"/>
<line x1="420.71" y1="824.8" x2="423.91" y2="824.8" stroke-width="1.3"/>
<line x1="427.63" y1="804.2" x2="427.63" y2="825.1"/>
<line x1="426.03" y1="804.2" x2="429.23" y2="804.2" stroke-width="1.3"/>
<line x1="426.03" y1="825.1" x2="429.23" y2="825.1" stroke-width="1.3"/>
<line x1="432.94" y1="799.9" x2="432.94" y2="827.6"/>
<line x1="431.34" y1="799.9" x2="434.54" y2="799.9" stroke-width="1.3"/>
<line x1="431.34" y1="827.6" x2="434.54" y2="827.6" stroke-width="1.3"/>
<line x1="438.25" y1="792" x2="438.25" y2="831.2"/>
<line x1="436.65" y1="792" x2="439.85" y2="792" stroke-width="1.3"/>
<line x1="436.65" y1="831.2" x2="439.85" y2="831.2" stroke-width="1.3"/>
<line x1="443.56" y1="791.2" x2="443.56" y2="829.8"/>
<line x1="441.96" y1="791.2" x2="445.17" y2="791.2" stroke-width="1.3"/>
<line x1="441.96" y1="829.8" x2="445.17" y2="829.8" stroke-width="1.3"/>
<line x1="448.88" y1="800.3" x2="448.88" y2="822.5"/>
<line x1="447.28" y1="800.3" x2="450.48" y2="800.3" stroke-width="1.3"/>
<line x1="447.28" y1="822.5" x2="450.48" y2="822.5" stroke-width="1.3"/>
<line x1="454.19" y1="801.3" x2="454.19" y2="821.5"/>
<line x1="452.59" y1="801.3" x2="455.79" y2="801.3" stroke-width="1.3"/>
<line x1="452.59" y1="821.5" x2="455.79" y2="821.5" stroke-width="1.3"/>
<line x1="459.50" y1="796.9" x2="459.50" y2="820.4"/>
<line x1="457.90" y1="796.9" x2="461.10" y2="796.9" stroke-width="1.3"/>
<line x1="457.90" y1="820.4" x2="461.10" y2="820.4" stroke-width="1.3"/>
<line x1="464.82" y1="796.2" x2="464.82" y2="820.3"/>
<line x1="463.22" y1="796.2" x2="466.42" y2="796.2" stroke-width="1.3"/>
<line x1="463.22" y1="820.3" x2="466.42" y2="820.3" stroke-width="1.3"/>
<line x1="470.13" y1="794.5" x2="470.13" y2="820"/>
<line x1="468.53" y1="794.5" x2="471.73" y2="794.5" stroke-width="1.3"/>
<line x1="468.53" y1="820" x2="471.73" y2="820" stroke-width="1.3"/>
<line x1="475.44" y1="794.5" x2="475.44" y2="818.8"/>
<line x1="473.84" y1="794.5" x2="477.04" y2="794.5" stroke-width="1.3"/>
<line x1="473.84" y1="818.8" x2="477.04" y2="818.8" stroke-width="1.3"/>
<line x1="480.76" y1="788" x2="480.76" y2="818.5"/>
<line x1="479.16" y1="788" x2="482.36" y2="788" stroke-width="1.3"/>
<line x1="479.16" y1="818.5" x2="482.36" y2="818.5" stroke-width="1.3"/>
<line x1="486.07" y1="790.5" x2="486.07" y2="815.2"/>
<line x1="484.47" y1="790.5" x2="487.67" y2="790.5" stroke-width="1.3"/>
<line x1="484.47" y1="815.2" x2="487.67" y2="815.2" stroke-width="1.3"/>
<line x1="491.38" y1="789.8" x2="491.38" y2="813.7"/>
<line x1="489.78" y1="789.8" x2="492.98" y2="789.8" stroke-width="1.3"/>
<line x1="489.78" y1="813.7" x2="492.98" y2="813.7" stroke-width="1.3"/>
<line x1="496.69" y1="786.8" x2="496.69" y2="813.1"/>
<line x1="495.09" y1="786.8" x2="498.30" y2="786.8" stroke-width="1.3"/>
<line x1="495.09" y1="813.1" x2="498.30" y2="813.1" stroke-width="1.3"/>
<line x1="502.01" y1="785.3" x2="502.01" y2="812.4"/>
<line x1="500.41" y1="785.3" x2="503.61" y2="785.3" stroke-width="1.3"/>
<line x1="500.41" y1="812.4" x2="503.61" y2="812.4" stroke-width="1.3"/>
<line x1="507.32" y1="781.3" x2="507.32" y2="812.3"/>
<line x1="505.72" y1="781.3" x2="508.92" y2="781.3" stroke-width="1.3"/>
<line x1="505.72" y1="812.3" x2="508.92" y2="812.3" stroke-width="1.3"/>
<line x1="512.63" y1="782.5" x2="512.63" y2="810.5"/>
<line x1="511.03" y1="782.5" x2="514.23" y2="782.5" stroke-width="1.3"/>
<line x1="511.03" y1="810.5" x2="514.23" y2="810.5" stroke-width="1.3"/>
<line x1="517.95" y1="782" x2="517.95" y2="808.6"/>
<line x1="516.35" y1="782" x2="519.55" y2="782" stroke-width="1.3"/>
<line x1="516.35" y1="808.6" x2="519.55" y2="808.6" stroke-width="1.3"/>
<line x1="523.26" y1="781" x2="523.26" y2="808.3"/>
<line x1="521.66" y1="781" x2="524.86" y2="781" stroke-width="1.3"/>
<line x1="521.66" y1="808.3" x2="524.86" y2="808.3" stroke-width="1.3"/>
<line x1="528.57" y1="777.7" x2="528.57" y2="807.6"/>
<line x1="526.97" y1="777.7" x2="530.17" y2="777.7" stroke-width="1.3"/>
<line x1="526.97" y1="807.6" x2="530.17" y2="807.6" stroke-width="1.3"/>
<line x1="533.89" y1="777.2" x2="533.89" y2="805.7"/>
<line x1="532.29" y1="777.2" x2="535.49" y2="777.2" stroke-width="1.3"/>
<line x1="532.29" y1="805.7" x2="535.49" y2="805.7" stroke-width="1.3"/>
<line x1="539.20" y1="775.2" x2="539.20" y2="804.4"/>
<line x1="537.60" y1="775.2" x2="540.80" y2="775.2" stroke-width="1.3"/>
<line x1="537.60" y1="804.4" x2="540.80" y2="804.4" stroke-width="1.3"/>
<line x1="544.51" y1="772.3" x2="544.51" y2="804.7"/>
<line x1="542.91" y1="772.3" x2="546.11" y2="772.3" stroke-width="1.3"/>
<line x1="542.91" y1="804.7" x2="546.11" y2="804.7" stroke-width="1.3"/>
<line x1="549.83" y1="769.3" x2="549.83" y2="805.4"/>
<line x1="548.23" y1="769.3" x2="551.43" y2="769.3" stroke-width="1.3"/>
<line x1="548.23" y1="805.4" x2="551.43" y2="805.4" stroke-width="1.3"/>
<line x1="555.14" y1="769.6" x2="555.14" y2="804.4"/>
<line x1="553.54" y1="769.6" x2="556.74" y2="769.6" stroke-width="1.3"/>
<line x1="553.54" y1="804.4" x2="556.74" y2="804.4" stroke-width="1.3"/>
<line x1="560.45" y1="767.4" x2="560.45" y2="803.9"/>
<line x1="558.85" y1="767.4" x2="562.05" y2="767.4" stroke-width="1.3"/>
<line x1="558.85" y1="803.9" x2="562.05" y2="803.9" stroke-width="1.3"/>
<line x1="565.76" y1="760.9" x2="565.76" y2="803.6"/>
<line x1="564.16" y1="760.9" x2="567.36" y2="760.9" stroke-width="1.3"/>
<line x1="564.16" y1="803.6" x2="567.36" y2="803.6" stroke-width="1.3"/>
<line x1="571.08" y1="764.2" x2="571.08" y2="801.3"/>
<line x1="569.48" y1="764.2" x2="572.68" y2="764.2" stroke-width="1.3"/>
<line x1="569.48" y1="801.3" x2="572.68" y2="801.3" stroke-width="1.3"/>
<line x1="576.39" y1="760.4" x2="576.39" y2="802.2"/>
<line x1="574.79" y1="760.4" x2="577.99" y2="760.4" stroke-width="1.3"/>
<line x1="574.79" y1="802.2" x2="577.99" y2="802.2" stroke-width="1.3"/>
<line x1="581.70" y1="761.3" x2="581.70" y2="800.6"/>
<line x1="580.10" y1="761.3" x2="583.30" y2="761.3" stroke-width="1.3"/>
<line x1="580.10" y1="800.6" x2="583.30" y2="800.6" stroke-width="1.3"/>
<line x1="587.02" y1="760.9" x2="587.02" y2="799.6"/>
<line x1="585.42" y1="760.9" x2="588.62" y2="760.9" stroke-width="1.3"/>
<line x1="585.42" y1="799.6" x2="588.62" y2="799.6" stroke-width="1.3"/>
<line x1="592.33" y1="760.4" x2="592.33" y2="802.5"/>
<line x1="590.73" y1="760.4" x2="593.93" y2="760.4" stroke-width="1.3"/>
<line x1="590.73" y1="802.5" x2="593.93" y2="802.5" stroke-width="1.3"/>
<line x1="597.64" y1="758.2" x2="597.64" y2="799.6"/>
<line x1="596.04" y1="758.2" x2="599.24" y2="758.2" stroke-width="1.3"/>
<line x1="596.04" y1="799.6" x2="599.24" y2="799.6" stroke-width="1.3"/>
<line x1="602.95" y1="757.2" x2="602.95" y2="801.3"/>
<line x1="601.35" y1="757.2" x2="604.55" y2="757.2" stroke-width="1.3"/>
<line x1="601.35" y1="801.3" x2="604.55" y2="801.3" stroke-width="1.3"/>
<line x1="608.27" y1="755.3" x2="608.27" y2="801.3"/>
<line x1="606.67" y1="755.3" x2="609.87" y2="755.3" stroke-width="1.3"/>
<line x1="606.67" y1="801.3" x2="609.87" y2="801.3" stroke-width="1.3"/>
<line x1="613.58" y1="753.3" x2="613.58" y2="802"/>
<line x1="611.98" y1="753.3" x2="615.18" y2="753.3" stroke-width="1.3"/>
<line x1="611.98" y1="802" x2="615.18" y2="802" stroke-width="1.3"/>
<line x1="618.89" y1="750.9" x2="618.89" y2="802.5"/>
<line x1="617.29" y1="750.9" x2="620.49" y2="750.9" stroke-width="1.3"/>
<line x1="617.29" y1="802.5" x2="620.49" y2="802.5" stroke-width="1.3"/>
<line x1="624.21" y1="749.9" x2="624.21" y2="802.5"/>
<line x1="622.61" y1="749.9" x2="625.81" y2="749.9" stroke-width="1.3"/>
<line x1="622.61" y1="802.5" x2="625.81" y2="802.5" stroke-width="1.3"/>
<line x1="629.52" y1="747.4" x2="629.52" y2="800.3"/>
<line x1="627.92" y1="747.4" x2="631.12" y2="747.4" stroke-width="1.3"/>
<line x1="627.92" y1="800.3" x2="631.12" y2="800.3" stroke-width="1.3"/>
<line x1="634.83" y1="746.3" x2="634.83" y2="800.3"/>
<line x1="633.23" y1="746.3" x2="636.43" y2="746.3" stroke-width="1.3"/>
<line x1="633.23" y1="800.3" x2="636.43" y2="800.3" stroke-width="1.3"/>
<line x1="640.15" y1="743.4" x2="640.15" y2="797.4"/>
<line x1="638.55" y1="743.4" x2="641.75" y2="743.4" stroke-width="1.3"/>
<line x1="638.55" y1="797.4" x2="641.75" y2="797.4" stroke-width="1.3"/>
<line x1="645.46" y1="739.4" x2="645.46" y2="798.4"/>
<line x1="643.86" y1="739.4" x2="647.06" y2="739.4" stroke-width="1.3"/>
<line x1="643.86" y1="798.4" x2="647.06" y2="798.4" stroke-width="1.3"/>
<line x1="650.77" y1="739.4" x2="650.77" y2="799.3"/>
<line x1="649.17" y1="739.4" x2="652.37" y2="739.4" stroke-width="1.3"/>
<line x1="649.17" y1="799.3" x2="652.37" y2="799.3" stroke-width="1.3"/>
<line x1="656.09" y1="738" x2="656.09" y2="797.4"/>
<line x1="654.49" y1="738" x2="657.69" y2="738" stroke-width="1.3"/>
<line x1="654.49" y1="797.4" x2="657.69" y2="797.4" stroke-width="1.3"/>
<line x1="661.40" y1="732.8" x2="661.40" y2="798.4"/>
<line x1="659.80" y1="732.8" x2="663.00" y2="732.8" stroke-width="1.3"/>
<line x1="659.80" y1="798.4" x2="663.00" y2="798.4" stroke-width="1.3"/>
<line x1="666.71" y1="732.4" x2="666.71" y2="797.4"/>
<line x1="665.11" y1="732.4" x2="668.31" y2="732.4" stroke-width="1.3"/>
<line x1="665.11" y1="797.4" x2="668.31" y2="797.4" stroke-width="1.3"/>
</g>
<path d="M412.3,816.4 L417.0,815.9 L422.3,815.9 L427.6,814.9 L432.9,813.4 L438.3,811.7 L443.6,810.8 L448.9,811.5 L454.2,812.0 L459.5,808.6 L464.8,807.9 L470.1,807.3 L475.4,806.9 L480.8,803.2 L486.1,802.8 L491.4,801.8 L496.7,800.1 L502.0,798.8 L507.3,796.6 L512.6,795.9 L517.9,795.2 L523.3,794.5 L528.6,792.6 L533.9,791.1 L539.2,789.8 L544.5,788.6 L549.8,787.4 L555.1,786.9 L560.5,785.3 L565.8,782.0 L571.1,782.8 L576.4,781.6 L581.7,781.0 L587.0,780.3 L592.3,781.3 L597.6,778.7 L603.0,779.1 L608.3,778.4 L613.6,777.7 L618.9,776.9 L624.2,776.2 L629.5,774.7 L634.8,773.3 L640.1,770.8 L645.5,769.2 L650.8,769.3 L656.1,767.9 L661.4,765.7 L666.7,764.5" fill="none" stroke="#4a6db3" stroke-width="2.4" stroke-linejoin="round"/>
<line x1="412" y1="749.4" x2="672.3" y2="749.4" stroke="#e0242c" stroke-width="3" stroke-dasharray="6.2 3"/>
<rect x="412" y="690.4" width="260.3" height="262.1" fill="none" stroke="#222" stroke-width="1.6" />
<text x="407.6" y="714.5000000000001" font-size="10.5" fill="#222" stroke="#222" stroke-width="0.13" text-anchor="end" textLength="15" lengthAdjust="spacingAndGlyphs">0.6</text>
<text x="407.6" y="754.6500000000001" font-size="10.5" fill="#222" stroke="#222" stroke-width="0.13" text-anchor="end" textLength="15" lengthAdjust="spacingAndGlyphs">0.5</text>
<text x="407.6" y="794.8000000000001" font-size="10.5" fill="#222" stroke="#222" stroke-width="0.13" text-anchor="end" textLength="15" lengthAdjust="spacingAndGlyphs">0.4</text>
<text x="407.6" y="834.95" font-size="10.5" fill="#222" stroke="#222" stroke-width="0.13" text-anchor="end" textLength="15" lengthAdjust="spacingAndGlyphs">0.3</text>
<text x="407.6" y="875.1000000000001" font-size="10.5" fill="#222" stroke="#222" stroke-width="0.13" text-anchor="end" textLength="15" lengthAdjust="spacingAndGlyphs">0.2</text>
<text x="407.6" y="915.2500000000001" font-size="10.5" fill="#222" stroke="#222" stroke-width="0.13" text-anchor="end" textLength="15" lengthAdjust="spacingAndGlyphs">0.1</text>
<text x="407.6" y="955.4000000000001" font-size="10.5" fill="#222" stroke="#222" stroke-width="0.13" text-anchor="end" textLength="15" lengthAdjust="spacingAndGlyphs">0.0</text>
<text x="412.5" y="963.6" font-size="9.8" fill="#222" stroke="#222" stroke-width="0.12" text-anchor="middle">0</text>
<text x="464.5" y="963.6" font-size="9.8" fill="#222" stroke="#222" stroke-width="0.12" text-anchor="middle">10</text>
<text x="516.5" y="963.6" font-size="9.8" fill="#222" stroke="#222" stroke-width="0.12" text-anchor="middle">20</text>
<text x="568.5" y="963.6" font-size="9.8" fill="#222" stroke="#222" stroke-width="0.12" text-anchor="middle">30</text>
<text x="620.5" y="963.6" font-size="9.8" fill="#222" stroke="#222" stroke-width="0.12" text-anchor="middle">40</text>
<text x="672.5" y="963.6" font-size="9.8" fill="#222" stroke="#222" stroke-width="0.12" text-anchor="middle">50</text>
<text x="543.5" y="976.8" font-size="12" fill="#222" stroke="#222" stroke-width="0.14" text-anchor="middle" textLength="32.2" lengthAdjust="spacingAndGlyphs">Hours</text>
<text transform="translate(386.9,826.9) rotate(-90)" font-size="12.3" fill="#222" stroke="#222" stroke-width="0.15" text-anchor="middle" textLength="30.5" lengthAdjust="spacingAndGlyphs">BgSD</text></svg></body></html>
